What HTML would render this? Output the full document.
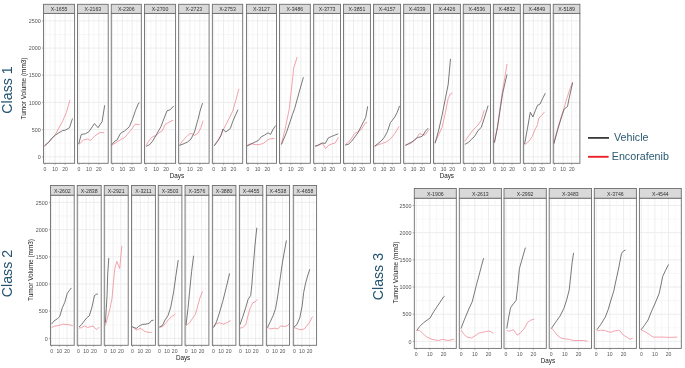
<!DOCTYPE html>
<html><head><meta charset="utf-8"><style>
html,body{margin:0;padding:0;background:#fff;}
body{width:685px;height:368px;overflow:hidden;position:relative;font-family:"Liberation Sans", sans-serif;}
svg text{font-family:"Liberation Sans", sans-serif;}
</style></head><body>
<svg width="685" height="368" viewBox="0 0 685 368" style="position:absolute;left:0;top:0"><g style="filter:blur(0.3px)"><rect x="43.55" y="13.40" width="31.05" height="149.90" fill="#fff"/><line x1="43.55" x2="74.60" y1="143.21" y2="143.21" stroke="#f3f3f3" stroke-width="0.6"/><line x1="43.55" x2="74.60" y1="116.03" y2="116.03" stroke="#f3f3f3" stroke-width="0.6"/><line x1="43.55" x2="74.60" y1="88.85" y2="88.85" stroke="#f3f3f3" stroke-width="0.6"/><line x1="43.55" x2="74.60" y1="61.67" y2="61.67" stroke="#f3f3f3" stroke-width="0.6"/><line x1="43.55" x2="74.60" y1="34.49" y2="34.49" stroke="#f3f3f3" stroke-width="0.6"/><line x1="50.00" x2="50.00" y1="13.40" y2="163.30" stroke="#f3f3f3" stroke-width="0.6"/><line x1="60.08" x2="60.08" y1="13.40" y2="163.30" stroke="#f3f3f3" stroke-width="0.6"/><line x1="70.16" x2="70.16" y1="13.40" y2="163.30" stroke="#f3f3f3" stroke-width="0.6"/><line x1="43.55" x2="74.60" y1="156.80" y2="156.80" stroke="#ebebeb" stroke-width="0.9"/><line x1="43.55" x2="74.60" y1="129.62" y2="129.62" stroke="#ebebeb" stroke-width="0.9"/><line x1="43.55" x2="74.60" y1="102.44" y2="102.44" stroke="#ebebeb" stroke-width="0.9"/><line x1="43.55" x2="74.60" y1="75.26" y2="75.26" stroke="#ebebeb" stroke-width="0.9"/><line x1="43.55" x2="74.60" y1="48.08" y2="48.08" stroke="#ebebeb" stroke-width="0.9"/><line x1="43.55" x2="74.60" y1="20.90" y2="20.90" stroke="#ebebeb" stroke-width="0.9"/><line x1="44.96" x2="44.96" y1="13.40" y2="163.30" stroke="#ebebeb" stroke-width="0.9"/><line x1="55.04" x2="55.04" y1="13.40" y2="163.30" stroke="#ebebeb" stroke-width="0.9"/><line x1="65.12" x2="65.12" y1="13.40" y2="163.30" stroke="#ebebeb" stroke-width="0.9"/><polyline points="44.4,146.0 50.1,140.9 55.2,134.8 62.4,121.6 66.4,112.4 69.9,100.2" fill="none" stroke="#f08c98" stroke-width="0.8" stroke-linejoin="round"/><polyline points="44.4,146.0 49.1,141.9 51.2,138.9 55.2,135.2 58.3,133.2 62.4,130.7 65.4,130.1 69.5,127.7 72.5,118.5" fill="none" stroke="#575757" stroke-width="0.8" stroke-linejoin="round"/><rect x="43.55" y="13.40" width="31.05" height="149.90" fill="none" stroke="#6e6e6e" stroke-width="0.9"/><rect x="43.55" y="4.30" width="31.05" height="9.10" fill="#d9d9d9" stroke="#6e6e6e" stroke-width="0.9"/><text x="59.08" y="11.35" font-size="5.2" fill="#333" text-anchor="middle">X-1655</text><line x1="44.96" x2="44.96" y1="163.30" y2="164.80" stroke="#777" stroke-width="0.6"/><text x="44.96" y="171.40" font-size="5.1" fill="#555" text-anchor="middle">0</text><line x1="55.04" x2="55.04" y1="163.30" y2="164.80" stroke="#777" stroke-width="0.6"/><text x="55.04" y="171.40" font-size="5.1" fill="#555" text-anchor="middle">10</text><line x1="65.12" x2="65.12" y1="163.30" y2="164.80" stroke="#777" stroke-width="0.6"/><text x="65.12" y="171.40" font-size="5.1" fill="#555" text-anchor="middle">20</text><rect x="77.55" y="13.40" width="30.65" height="149.90" fill="#fff"/><line x1="77.55" x2="108.20" y1="143.21" y2="143.21" stroke="#f3f3f3" stroke-width="0.6"/><line x1="77.55" x2="108.20" y1="116.03" y2="116.03" stroke="#f3f3f3" stroke-width="0.6"/><line x1="77.55" x2="108.20" y1="88.85" y2="88.85" stroke="#f3f3f3" stroke-width="0.6"/><line x1="77.55" x2="108.20" y1="61.67" y2="61.67" stroke="#f3f3f3" stroke-width="0.6"/><line x1="77.55" x2="108.20" y1="34.49" y2="34.49" stroke="#f3f3f3" stroke-width="0.6"/><line x1="83.92" x2="83.92" y1="13.40" y2="163.30" stroke="#f3f3f3" stroke-width="0.6"/><line x1="93.87" x2="93.87" y1="13.40" y2="163.30" stroke="#f3f3f3" stroke-width="0.6"/><line x1="103.82" x2="103.82" y1="13.40" y2="163.30" stroke="#f3f3f3" stroke-width="0.6"/><line x1="77.55" x2="108.20" y1="156.80" y2="156.80" stroke="#ebebeb" stroke-width="0.9"/><line x1="77.55" x2="108.20" y1="129.62" y2="129.62" stroke="#ebebeb" stroke-width="0.9"/><line x1="77.55" x2="108.20" y1="102.44" y2="102.44" stroke="#ebebeb" stroke-width="0.9"/><line x1="77.55" x2="108.20" y1="75.26" y2="75.26" stroke="#ebebeb" stroke-width="0.9"/><line x1="77.55" x2="108.20" y1="48.08" y2="48.08" stroke="#ebebeb" stroke-width="0.9"/><line x1="77.55" x2="108.20" y1="20.90" y2="20.90" stroke="#ebebeb" stroke-width="0.9"/><line x1="78.94" x2="78.94" y1="13.40" y2="163.30" stroke="#ebebeb" stroke-width="0.9"/><line x1="88.89" x2="88.89" y1="13.40" y2="163.30" stroke="#ebebeb" stroke-width="0.9"/><line x1="98.85" x2="98.85" y1="13.40" y2="163.30" stroke="#ebebeb" stroke-width="0.9"/><polyline points="78.7,144.6 83.8,139.9 87.8,138.9 90.5,140.5 95.0,135.8 100.0,132.4 104.1,132.8" fill="none" stroke="#f08c98" stroke-width="0.8" stroke-linejoin="round"/><polyline points="78.7,144.0 81.3,134.4 85.4,133.8 88.8,131.8 94.5,123.6 98.0,127.7 102.1,121.6 104.7,105.3" fill="none" stroke="#575757" stroke-width="0.8" stroke-linejoin="round"/><rect x="77.55" y="13.40" width="30.65" height="149.90" fill="none" stroke="#6e6e6e" stroke-width="0.9"/><rect x="77.55" y="4.30" width="30.65" height="9.10" fill="#d9d9d9" stroke="#6e6e6e" stroke-width="0.9"/><text x="92.88" y="11.35" font-size="5.2" fill="#333" text-anchor="middle">X-2163</text><line x1="78.94" x2="78.94" y1="163.30" y2="164.80" stroke="#777" stroke-width="0.6"/><text x="78.94" y="171.40" font-size="5.1" fill="#555" text-anchor="middle">0</text><line x1="88.89" x2="88.89" y1="163.30" y2="164.80" stroke="#777" stroke-width="0.6"/><text x="88.89" y="171.40" font-size="5.1" fill="#555" text-anchor="middle">10</text><line x1="98.85" x2="98.85" y1="163.30" y2="164.80" stroke="#777" stroke-width="0.6"/><text x="98.85" y="171.40" font-size="5.1" fill="#555" text-anchor="middle">20</text><rect x="111.25" y="13.40" width="30.05" height="149.90" fill="#fff"/><line x1="111.25" x2="141.30" y1="143.21" y2="143.21" stroke="#f3f3f3" stroke-width="0.6"/><line x1="111.25" x2="141.30" y1="116.03" y2="116.03" stroke="#f3f3f3" stroke-width="0.6"/><line x1="111.25" x2="141.30" y1="88.85" y2="88.85" stroke="#f3f3f3" stroke-width="0.6"/><line x1="111.25" x2="141.30" y1="61.67" y2="61.67" stroke="#f3f3f3" stroke-width="0.6"/><line x1="111.25" x2="141.30" y1="34.49" y2="34.49" stroke="#f3f3f3" stroke-width="0.6"/><line x1="117.49" x2="117.49" y1="13.40" y2="163.30" stroke="#f3f3f3" stroke-width="0.6"/><line x1="127.25" x2="127.25" y1="13.40" y2="163.30" stroke="#f3f3f3" stroke-width="0.6"/><line x1="137.01" x2="137.01" y1="13.40" y2="163.30" stroke="#f3f3f3" stroke-width="0.6"/><line x1="111.25" x2="141.30" y1="156.80" y2="156.80" stroke="#ebebeb" stroke-width="0.9"/><line x1="111.25" x2="141.30" y1="129.62" y2="129.62" stroke="#ebebeb" stroke-width="0.9"/><line x1="111.25" x2="141.30" y1="102.44" y2="102.44" stroke="#ebebeb" stroke-width="0.9"/><line x1="111.25" x2="141.30" y1="75.26" y2="75.26" stroke="#ebebeb" stroke-width="0.9"/><line x1="111.25" x2="141.30" y1="48.08" y2="48.08" stroke="#ebebeb" stroke-width="0.9"/><line x1="111.25" x2="141.30" y1="20.90" y2="20.90" stroke="#ebebeb" stroke-width="0.9"/><line x1="112.62" x2="112.62" y1="13.40" y2="163.30" stroke="#ebebeb" stroke-width="0.9"/><line x1="122.37" x2="122.37" y1="13.40" y2="163.30" stroke="#ebebeb" stroke-width="0.9"/><line x1="132.13" x2="132.13" y1="13.40" y2="163.30" stroke="#ebebeb" stroke-width="0.9"/><polyline points="111.8,145.0 117.2,141.9 121.2,139.3 124.3,137.9 128.3,133.2 131.4,129.7 135.1,124.2 139.6,124.6" fill="none" stroke="#f08c98" stroke-width="0.8" stroke-linejoin="round"/><polyline points="111.8,144.6 115.1,140.9 117.2,139.9 120.2,133.8 122.2,132.2 124.3,131.3 129.4,126.7 132.4,119.5 135.5,110.4 138.5,103.2 139.6,102.8" fill="none" stroke="#575757" stroke-width="0.8" stroke-linejoin="round"/><rect x="111.25" y="13.40" width="30.05" height="149.90" fill="none" stroke="#6e6e6e" stroke-width="0.9"/><rect x="111.25" y="4.30" width="30.05" height="9.10" fill="#d9d9d9" stroke="#6e6e6e" stroke-width="0.9"/><text x="126.28" y="11.35" font-size="5.2" fill="#333" text-anchor="middle">X-2306</text><line x1="112.62" x2="112.62" y1="163.30" y2="164.80" stroke="#777" stroke-width="0.6"/><text x="112.62" y="171.40" font-size="5.1" fill="#555" text-anchor="middle">0</text><line x1="122.37" x2="122.37" y1="163.30" y2="164.80" stroke="#777" stroke-width="0.6"/><text x="122.37" y="171.40" font-size="5.1" fill="#555" text-anchor="middle">10</text><line x1="132.13" x2="132.13" y1="163.30" y2="164.80" stroke="#777" stroke-width="0.6"/><text x="132.13" y="171.40" font-size="5.1" fill="#555" text-anchor="middle">20</text><rect x="144.45" y="13.40" width="31.15" height="149.90" fill="#fff"/><line x1="144.45" x2="175.60" y1="143.21" y2="143.21" stroke="#f3f3f3" stroke-width="0.6"/><line x1="144.45" x2="175.60" y1="116.03" y2="116.03" stroke="#f3f3f3" stroke-width="0.6"/><line x1="144.45" x2="175.60" y1="88.85" y2="88.85" stroke="#f3f3f3" stroke-width="0.6"/><line x1="144.45" x2="175.60" y1="61.67" y2="61.67" stroke="#f3f3f3" stroke-width="0.6"/><line x1="144.45" x2="175.60" y1="34.49" y2="34.49" stroke="#f3f3f3" stroke-width="0.6"/><line x1="150.92" x2="150.92" y1="13.40" y2="163.30" stroke="#f3f3f3" stroke-width="0.6"/><line x1="161.04" x2="161.04" y1="13.40" y2="163.30" stroke="#f3f3f3" stroke-width="0.6"/><line x1="171.15" x2="171.15" y1="13.40" y2="163.30" stroke="#f3f3f3" stroke-width="0.6"/><line x1="144.45" x2="175.60" y1="156.80" y2="156.80" stroke="#ebebeb" stroke-width="0.9"/><line x1="144.45" x2="175.60" y1="129.62" y2="129.62" stroke="#ebebeb" stroke-width="0.9"/><line x1="144.45" x2="175.60" y1="102.44" y2="102.44" stroke="#ebebeb" stroke-width="0.9"/><line x1="144.45" x2="175.60" y1="75.26" y2="75.26" stroke="#ebebeb" stroke-width="0.9"/><line x1="144.45" x2="175.60" y1="48.08" y2="48.08" stroke="#ebebeb" stroke-width="0.9"/><line x1="144.45" x2="175.60" y1="20.90" y2="20.90" stroke="#ebebeb" stroke-width="0.9"/><line x1="145.87" x2="145.87" y1="13.40" y2="163.30" stroke="#ebebeb" stroke-width="0.9"/><line x1="155.98" x2="155.98" y1="13.40" y2="163.30" stroke="#ebebeb" stroke-width="0.9"/><line x1="166.09" x2="166.09" y1="13.40" y2="163.30" stroke="#ebebeb" stroke-width="0.9"/><polyline points="146.1,145.4 149.7,139.9 152.8,136.4 155.8,135.8 158.9,132.8 162.4,130.7 165.0,124.6 169.1,122.2 173.2,120.1" fill="none" stroke="#f08c98" stroke-width="0.8" stroke-linejoin="round"/><polyline points="146.1,146.4 149.7,144.6 152.8,140.9 156.9,133.8 160.9,126.7 164.0,118.5 167.0,110.8 170.1,109.8 173.8,105.9" fill="none" stroke="#575757" stroke-width="0.8" stroke-linejoin="round"/><rect x="144.45" y="13.40" width="31.15" height="149.90" fill="none" stroke="#6e6e6e" stroke-width="0.9"/><rect x="144.45" y="4.30" width="31.15" height="9.10" fill="#d9d9d9" stroke="#6e6e6e" stroke-width="0.9"/><text x="160.02" y="11.35" font-size="5.2" fill="#333" text-anchor="middle">X-2700</text><line x1="145.87" x2="145.87" y1="163.30" y2="164.80" stroke="#777" stroke-width="0.6"/><text x="145.87" y="171.40" font-size="5.1" fill="#555" text-anchor="middle">0</text><line x1="155.98" x2="155.98" y1="163.30" y2="164.80" stroke="#777" stroke-width="0.6"/><text x="155.98" y="171.40" font-size="5.1" fill="#555" text-anchor="middle">10</text><line x1="166.09" x2="166.09" y1="163.30" y2="164.80" stroke="#777" stroke-width="0.6"/><text x="166.09" y="171.40" font-size="5.1" fill="#555" text-anchor="middle">20</text><rect x="178.65" y="13.40" width="30.45" height="149.90" fill="#fff"/><line x1="178.65" x2="209.10" y1="143.21" y2="143.21" stroke="#f3f3f3" stroke-width="0.6"/><line x1="178.65" x2="209.10" y1="116.03" y2="116.03" stroke="#f3f3f3" stroke-width="0.6"/><line x1="178.65" x2="209.10" y1="88.85" y2="88.85" stroke="#f3f3f3" stroke-width="0.6"/><line x1="178.65" x2="209.10" y1="61.67" y2="61.67" stroke="#f3f3f3" stroke-width="0.6"/><line x1="178.65" x2="209.10" y1="34.49" y2="34.49" stroke="#f3f3f3" stroke-width="0.6"/><line x1="184.98" x2="184.98" y1="13.40" y2="163.30" stroke="#f3f3f3" stroke-width="0.6"/><line x1="194.86" x2="194.86" y1="13.40" y2="163.30" stroke="#f3f3f3" stroke-width="0.6"/><line x1="204.75" x2="204.75" y1="13.40" y2="163.30" stroke="#f3f3f3" stroke-width="0.6"/><line x1="178.65" x2="209.10" y1="156.80" y2="156.80" stroke="#ebebeb" stroke-width="0.9"/><line x1="178.65" x2="209.10" y1="129.62" y2="129.62" stroke="#ebebeb" stroke-width="0.9"/><line x1="178.65" x2="209.10" y1="102.44" y2="102.44" stroke="#ebebeb" stroke-width="0.9"/><line x1="178.65" x2="209.10" y1="75.26" y2="75.26" stroke="#ebebeb" stroke-width="0.9"/><line x1="178.65" x2="209.10" y1="48.08" y2="48.08" stroke="#ebebeb" stroke-width="0.9"/><line x1="178.65" x2="209.10" y1="20.90" y2="20.90" stroke="#ebebeb" stroke-width="0.9"/><line x1="180.03" x2="180.03" y1="13.40" y2="163.30" stroke="#ebebeb" stroke-width="0.9"/><line x1="189.92" x2="189.92" y1="13.40" y2="163.30" stroke="#ebebeb" stroke-width="0.9"/><line x1="199.81" x2="199.81" y1="13.40" y2="163.30" stroke="#ebebeb" stroke-width="0.9"/><polyline points="179.5,145.2 182.9,140.6 186.4,136.7 189.9,133.7 192.2,133.7 194.5,135.5 198.0,133.2 201.0,127.4 203.1,120.5" fill="none" stroke="#f08c98" stroke-width="0.8" stroke-linejoin="round"/><polyline points="179.5,145.4 182.9,144.1 187.6,142.0 191.0,139.0 194.5,132.0 198.0,119.3 200.3,110.1 202.6,103.1" fill="none" stroke="#575757" stroke-width="0.8" stroke-linejoin="round"/><rect x="178.65" y="13.40" width="30.45" height="149.90" fill="none" stroke="#6e6e6e" stroke-width="0.9"/><rect x="178.65" y="4.30" width="30.45" height="9.10" fill="#d9d9d9" stroke="#6e6e6e" stroke-width="0.9"/><text x="193.88" y="11.35" font-size="5.2" fill="#333" text-anchor="middle">X-2723</text><line x1="180.03" x2="180.03" y1="163.30" y2="164.80" stroke="#777" stroke-width="0.6"/><text x="180.03" y="171.40" font-size="5.1" fill="#555" text-anchor="middle">0</text><line x1="189.92" x2="189.92" y1="163.30" y2="164.80" stroke="#777" stroke-width="0.6"/><text x="189.92" y="171.40" font-size="5.1" fill="#555" text-anchor="middle">10</text><line x1="199.81" x2="199.81" y1="163.30" y2="164.80" stroke="#777" stroke-width="0.6"/><text x="199.81" y="171.40" font-size="5.1" fill="#555" text-anchor="middle">20</text><rect x="212.35" y="13.40" width="30.35" height="149.90" fill="#fff"/><line x1="212.35" x2="242.70" y1="143.21" y2="143.21" stroke="#f3f3f3" stroke-width="0.6"/><line x1="212.35" x2="242.70" y1="116.03" y2="116.03" stroke="#f3f3f3" stroke-width="0.6"/><line x1="212.35" x2="242.70" y1="88.85" y2="88.85" stroke="#f3f3f3" stroke-width="0.6"/><line x1="212.35" x2="242.70" y1="61.67" y2="61.67" stroke="#f3f3f3" stroke-width="0.6"/><line x1="212.35" x2="242.70" y1="34.49" y2="34.49" stroke="#f3f3f3" stroke-width="0.6"/><line x1="218.66" x2="218.66" y1="13.40" y2="163.30" stroke="#f3f3f3" stroke-width="0.6"/><line x1="228.51" x2="228.51" y1="13.40" y2="163.30" stroke="#f3f3f3" stroke-width="0.6"/><line x1="238.36" x2="238.36" y1="13.40" y2="163.30" stroke="#f3f3f3" stroke-width="0.6"/><line x1="212.35" x2="242.70" y1="156.80" y2="156.80" stroke="#ebebeb" stroke-width="0.9"/><line x1="212.35" x2="242.70" y1="129.62" y2="129.62" stroke="#ebebeb" stroke-width="0.9"/><line x1="212.35" x2="242.70" y1="102.44" y2="102.44" stroke="#ebebeb" stroke-width="0.9"/><line x1="212.35" x2="242.70" y1="75.26" y2="75.26" stroke="#ebebeb" stroke-width="0.9"/><line x1="212.35" x2="242.70" y1="48.08" y2="48.08" stroke="#ebebeb" stroke-width="0.9"/><line x1="212.35" x2="242.70" y1="20.90" y2="20.90" stroke="#ebebeb" stroke-width="0.9"/><line x1="213.73" x2="213.73" y1="13.40" y2="163.30" stroke="#ebebeb" stroke-width="0.9"/><line x1="223.58" x2="223.58" y1="13.40" y2="163.30" stroke="#ebebeb" stroke-width="0.9"/><line x1="233.44" x2="233.44" y1="13.40" y2="163.30" stroke="#ebebeb" stroke-width="0.9"/><polyline points="214.2,145.4 218.8,139.0 222.2,132.0 225.7,125.1 229.2,118.2 232.7,111.2 235.7,100.8 238.9,88.8" fill="none" stroke="#f08c98" stroke-width="0.8" stroke-linejoin="round"/><polyline points="214.2,145.9 217.6,141.3 221.1,135.5 222.9,129.0 225.7,132.0 230.3,128.6 232.7,121.6 235.7,114.7 238.0,109.6" fill="none" stroke="#575757" stroke-width="0.8" stroke-linejoin="round"/><rect x="212.35" y="13.40" width="30.35" height="149.90" fill="none" stroke="#6e6e6e" stroke-width="0.9"/><rect x="212.35" y="4.30" width="30.35" height="9.10" fill="#d9d9d9" stroke="#6e6e6e" stroke-width="0.9"/><text x="227.52" y="11.35" font-size="5.2" fill="#333" text-anchor="middle">X-2753</text><line x1="213.73" x2="213.73" y1="163.30" y2="164.80" stroke="#777" stroke-width="0.6"/><text x="213.73" y="171.40" font-size="5.1" fill="#555" text-anchor="middle">0</text><line x1="223.58" x2="223.58" y1="163.30" y2="164.80" stroke="#777" stroke-width="0.6"/><text x="223.58" y="171.40" font-size="5.1" fill="#555" text-anchor="middle">10</text><line x1="233.44" x2="233.44" y1="163.30" y2="164.80" stroke="#777" stroke-width="0.6"/><text x="233.44" y="171.40" font-size="5.1" fill="#555" text-anchor="middle">20</text><rect x="246.45" y="13.40" width="30.05" height="149.90" fill="#fff"/><line x1="246.45" x2="276.50" y1="143.21" y2="143.21" stroke="#f3f3f3" stroke-width="0.6"/><line x1="246.45" x2="276.50" y1="116.03" y2="116.03" stroke="#f3f3f3" stroke-width="0.6"/><line x1="246.45" x2="276.50" y1="88.85" y2="88.85" stroke="#f3f3f3" stroke-width="0.6"/><line x1="246.45" x2="276.50" y1="61.67" y2="61.67" stroke="#f3f3f3" stroke-width="0.6"/><line x1="246.45" x2="276.50" y1="34.49" y2="34.49" stroke="#f3f3f3" stroke-width="0.6"/><line x1="252.69" x2="252.69" y1="13.40" y2="163.30" stroke="#f3f3f3" stroke-width="0.6"/><line x1="262.45" x2="262.45" y1="13.40" y2="163.30" stroke="#f3f3f3" stroke-width="0.6"/><line x1="272.21" x2="272.21" y1="13.40" y2="163.30" stroke="#f3f3f3" stroke-width="0.6"/><line x1="246.45" x2="276.50" y1="156.80" y2="156.80" stroke="#ebebeb" stroke-width="0.9"/><line x1="246.45" x2="276.50" y1="129.62" y2="129.62" stroke="#ebebeb" stroke-width="0.9"/><line x1="246.45" x2="276.50" y1="102.44" y2="102.44" stroke="#ebebeb" stroke-width="0.9"/><line x1="246.45" x2="276.50" y1="75.26" y2="75.26" stroke="#ebebeb" stroke-width="0.9"/><line x1="246.45" x2="276.50" y1="48.08" y2="48.08" stroke="#ebebeb" stroke-width="0.9"/><line x1="246.45" x2="276.50" y1="20.90" y2="20.90" stroke="#ebebeb" stroke-width="0.9"/><line x1="247.82" x2="247.82" y1="13.40" y2="163.30" stroke="#ebebeb" stroke-width="0.9"/><line x1="257.57" x2="257.57" y1="13.40" y2="163.30" stroke="#ebebeb" stroke-width="0.9"/><line x1="267.33" x2="267.33" y1="13.40" y2="163.30" stroke="#ebebeb" stroke-width="0.9"/><polyline points="247.1,145.4 251.1,143.6 255.2,144.6 259.3,144.6 263.4,143.4 266.4,140.9 269.5,138.9 274.6,138.5" fill="none" stroke="#f08c98" stroke-width="0.8" stroke-linejoin="round"/><polyline points="247.1,146.0 251.1,144.0 255.2,141.9 258.3,140.5 261.3,136.8 264.4,135.2 268.0,132.8 270.5,134.4 272.9,129.7 275.6,125.6" fill="none" stroke="#575757" stroke-width="0.8" stroke-linejoin="round"/><rect x="246.45" y="13.40" width="30.05" height="149.90" fill="none" stroke="#6e6e6e" stroke-width="0.9"/><rect x="246.45" y="4.30" width="30.05" height="9.10" fill="#d9d9d9" stroke="#6e6e6e" stroke-width="0.9"/><text x="261.48" y="11.35" font-size="5.2" fill="#333" text-anchor="middle">X-3127</text><line x1="247.82" x2="247.82" y1="163.30" y2="164.80" stroke="#777" stroke-width="0.6"/><text x="247.82" y="171.40" font-size="5.1" fill="#555" text-anchor="middle">0</text><line x1="257.57" x2="257.57" y1="163.30" y2="164.80" stroke="#777" stroke-width="0.6"/><text x="257.57" y="171.40" font-size="5.1" fill="#555" text-anchor="middle">10</text><line x1="267.33" x2="267.33" y1="163.30" y2="164.80" stroke="#777" stroke-width="0.6"/><text x="267.33" y="171.40" font-size="5.1" fill="#555" text-anchor="middle">20</text><rect x="279.45" y="13.40" width="30.85" height="149.90" fill="#fff"/><line x1="279.45" x2="310.30" y1="143.21" y2="143.21" stroke="#f3f3f3" stroke-width="0.6"/><line x1="279.45" x2="310.30" y1="116.03" y2="116.03" stroke="#f3f3f3" stroke-width="0.6"/><line x1="279.45" x2="310.30" y1="88.85" y2="88.85" stroke="#f3f3f3" stroke-width="0.6"/><line x1="279.45" x2="310.30" y1="61.67" y2="61.67" stroke="#f3f3f3" stroke-width="0.6"/><line x1="279.45" x2="310.30" y1="34.49" y2="34.49" stroke="#f3f3f3" stroke-width="0.6"/><line x1="285.86" x2="285.86" y1="13.40" y2="163.30" stroke="#f3f3f3" stroke-width="0.6"/><line x1="295.88" x2="295.88" y1="13.40" y2="163.30" stroke="#f3f3f3" stroke-width="0.6"/><line x1="305.89" x2="305.89" y1="13.40" y2="163.30" stroke="#f3f3f3" stroke-width="0.6"/><line x1="279.45" x2="310.30" y1="156.80" y2="156.80" stroke="#ebebeb" stroke-width="0.9"/><line x1="279.45" x2="310.30" y1="129.62" y2="129.62" stroke="#ebebeb" stroke-width="0.9"/><line x1="279.45" x2="310.30" y1="102.44" y2="102.44" stroke="#ebebeb" stroke-width="0.9"/><line x1="279.45" x2="310.30" y1="75.26" y2="75.26" stroke="#ebebeb" stroke-width="0.9"/><line x1="279.45" x2="310.30" y1="48.08" y2="48.08" stroke="#ebebeb" stroke-width="0.9"/><line x1="279.45" x2="310.30" y1="20.90" y2="20.90" stroke="#ebebeb" stroke-width="0.9"/><line x1="280.85" x2="280.85" y1="13.40" y2="163.30" stroke="#ebebeb" stroke-width="0.9"/><line x1="290.87" x2="290.87" y1="13.40" y2="163.30" stroke="#ebebeb" stroke-width="0.9"/><line x1="300.88" x2="300.88" y1="13.40" y2="163.30" stroke="#ebebeb" stroke-width="0.9"/><polyline points="281.4,144.0 285.0,129.7 289.3,108.7 291.0,92.8 292.8,76.9 293.7,68.0 297.2,57.0" fill="none" stroke="#f08c98" stroke-width="0.8" stroke-linejoin="round"/><polyline points="281.4,144.6 286.4,132.7 292.4,114.7 294.6,108.7 299.0,92.8 303.4,77.2" fill="none" stroke="#575757" stroke-width="0.8" stroke-linejoin="round"/><rect x="279.45" y="13.40" width="30.85" height="149.90" fill="none" stroke="#6e6e6e" stroke-width="0.9"/><rect x="279.45" y="4.30" width="30.85" height="9.10" fill="#d9d9d9" stroke="#6e6e6e" stroke-width="0.9"/><text x="294.88" y="11.35" font-size="5.2" fill="#333" text-anchor="middle">X-3486</text><line x1="280.85" x2="280.85" y1="163.30" y2="164.80" stroke="#777" stroke-width="0.6"/><text x="280.85" y="171.40" font-size="5.1" fill="#555" text-anchor="middle">0</text><line x1="290.87" x2="290.87" y1="163.30" y2="164.80" stroke="#777" stroke-width="0.6"/><text x="290.87" y="171.40" font-size="5.1" fill="#555" text-anchor="middle">10</text><line x1="300.88" x2="300.88" y1="163.30" y2="164.80" stroke="#777" stroke-width="0.6"/><text x="300.88" y="171.40" font-size="5.1" fill="#555" text-anchor="middle">20</text><line x1="42.05" x2="43.55" y1="156.80" y2="156.80" stroke="#777" stroke-width="0.6"/><text x="40.70" y="158.95" font-size="5.35" fill="#555" text-anchor="end">0</text><line x1="42.05" x2="43.55" y1="129.62" y2="129.62" stroke="#777" stroke-width="0.6"/><text x="40.70" y="131.77" font-size="5.35" fill="#555" text-anchor="end">500</text><line x1="42.05" x2="43.55" y1="102.44" y2="102.44" stroke="#777" stroke-width="0.6"/><text x="40.70" y="104.59" font-size="5.35" fill="#555" text-anchor="end">1000</text><line x1="42.05" x2="43.55" y1="75.26" y2="75.26" stroke="#777" stroke-width="0.6"/><text x="40.70" y="77.41" font-size="5.35" fill="#555" text-anchor="end">1500</text><line x1="42.05" x2="43.55" y1="48.08" y2="48.08" stroke="#777" stroke-width="0.6"/><text x="40.70" y="50.23" font-size="5.35" fill="#555" text-anchor="end">2000</text><line x1="42.05" x2="43.55" y1="20.90" y2="20.90" stroke="#777" stroke-width="0.6"/><text x="40.70" y="23.05" font-size="5.35" fill="#555" text-anchor="end">2500</text><rect x="313.65" y="13.40" width="26.85" height="149.90" fill="#fff"/><line x1="313.65" x2="340.50" y1="143.21" y2="143.21" stroke="#f3f3f3" stroke-width="0.6"/><line x1="313.65" x2="340.50" y1="116.03" y2="116.03" stroke="#f3f3f3" stroke-width="0.6"/><line x1="313.65" x2="340.50" y1="88.85" y2="88.85" stroke="#f3f3f3" stroke-width="0.6"/><line x1="313.65" x2="340.50" y1="61.67" y2="61.67" stroke="#f3f3f3" stroke-width="0.6"/><line x1="313.65" x2="340.50" y1="34.49" y2="34.49" stroke="#f3f3f3" stroke-width="0.6"/><line x1="319.23" x2="319.23" y1="13.40" y2="163.30" stroke="#f3f3f3" stroke-width="0.6"/><line x1="327.95" x2="327.95" y1="13.40" y2="163.30" stroke="#f3f3f3" stroke-width="0.6"/><line x1="336.66" x2="336.66" y1="13.40" y2="163.30" stroke="#f3f3f3" stroke-width="0.6"/><line x1="313.65" x2="340.50" y1="156.80" y2="156.80" stroke="#ebebeb" stroke-width="0.9"/><line x1="313.65" x2="340.50" y1="129.62" y2="129.62" stroke="#ebebeb" stroke-width="0.9"/><line x1="313.65" x2="340.50" y1="102.44" y2="102.44" stroke="#ebebeb" stroke-width="0.9"/><line x1="313.65" x2="340.50" y1="75.26" y2="75.26" stroke="#ebebeb" stroke-width="0.9"/><line x1="313.65" x2="340.50" y1="48.08" y2="48.08" stroke="#ebebeb" stroke-width="0.9"/><line x1="313.65" x2="340.50" y1="20.90" y2="20.90" stroke="#ebebeb" stroke-width="0.9"/><line x1="314.87" x2="314.87" y1="13.40" y2="163.30" stroke="#ebebeb" stroke-width="0.9"/><line x1="323.59" x2="323.59" y1="13.40" y2="163.30" stroke="#ebebeb" stroke-width="0.9"/><line x1="332.31" x2="332.31" y1="13.40" y2="163.30" stroke="#ebebeb" stroke-width="0.9"/><polyline points="315.1,146.5 318.1,145.5 322.2,143.4 324.3,146.1 325.7,148.5 328.3,145.5 331.4,144.1 335.1,143.0 338.5,137.3" fill="none" stroke="#f08c98" stroke-width="0.8" stroke-linejoin="round"/><polyline points="315.1,146.1 318.1,145.1 322.2,143.0 325.3,143.4 328.3,137.9 331.4,136.5 334.5,135.3 338.1,133.8" fill="none" stroke="#575757" stroke-width="0.8" stroke-linejoin="round"/><rect x="313.65" y="13.40" width="26.85" height="149.90" fill="none" stroke="#6e6e6e" stroke-width="0.9"/><rect x="313.65" y="4.30" width="26.85" height="9.10" fill="#d9d9d9" stroke="#6e6e6e" stroke-width="0.9"/><text x="327.08" y="11.35" font-size="5.2" fill="#333" text-anchor="middle">X-3773</text><line x1="314.87" x2="314.87" y1="163.30" y2="164.80" stroke="#777" stroke-width="0.6"/><text x="314.87" y="171.40" font-size="5.1" fill="#555" text-anchor="middle">0</text><line x1="323.59" x2="323.59" y1="163.30" y2="164.80" stroke="#777" stroke-width="0.6"/><text x="323.59" y="171.40" font-size="5.1" fill="#555" text-anchor="middle">10</text><line x1="332.31" x2="332.31" y1="163.30" y2="164.80" stroke="#777" stroke-width="0.6"/><text x="332.31" y="171.40" font-size="5.1" fill="#555" text-anchor="middle">20</text><rect x="343.55" y="13.40" width="26.85" height="149.90" fill="#fff"/><line x1="343.55" x2="370.40" y1="143.21" y2="143.21" stroke="#f3f3f3" stroke-width="0.6"/><line x1="343.55" x2="370.40" y1="116.03" y2="116.03" stroke="#f3f3f3" stroke-width="0.6"/><line x1="343.55" x2="370.40" y1="88.85" y2="88.85" stroke="#f3f3f3" stroke-width="0.6"/><line x1="343.55" x2="370.40" y1="61.67" y2="61.67" stroke="#f3f3f3" stroke-width="0.6"/><line x1="343.55" x2="370.40" y1="34.49" y2="34.49" stroke="#f3f3f3" stroke-width="0.6"/><line x1="349.13" x2="349.13" y1="13.40" y2="163.30" stroke="#f3f3f3" stroke-width="0.6"/><line x1="357.85" x2="357.85" y1="13.40" y2="163.30" stroke="#f3f3f3" stroke-width="0.6"/><line x1="366.56" x2="366.56" y1="13.40" y2="163.30" stroke="#f3f3f3" stroke-width="0.6"/><line x1="343.55" x2="370.40" y1="156.80" y2="156.80" stroke="#ebebeb" stroke-width="0.9"/><line x1="343.55" x2="370.40" y1="129.62" y2="129.62" stroke="#ebebeb" stroke-width="0.9"/><line x1="343.55" x2="370.40" y1="102.44" y2="102.44" stroke="#ebebeb" stroke-width="0.9"/><line x1="343.55" x2="370.40" y1="75.26" y2="75.26" stroke="#ebebeb" stroke-width="0.9"/><line x1="343.55" x2="370.40" y1="48.08" y2="48.08" stroke="#ebebeb" stroke-width="0.9"/><line x1="343.55" x2="370.40" y1="20.90" y2="20.90" stroke="#ebebeb" stroke-width="0.9"/><line x1="344.77" x2="344.77" y1="13.40" y2="163.30" stroke="#ebebeb" stroke-width="0.9"/><line x1="353.49" x2="353.49" y1="13.40" y2="163.30" stroke="#ebebeb" stroke-width="0.9"/><line x1="362.21" x2="362.21" y1="13.40" y2="163.30" stroke="#ebebeb" stroke-width="0.9"/><polyline points="345.3,144.7 348.7,142.0 351.8,137.9 354.9,133.2 357.9,131.8 361.0,129.8 363.6,125.7 365.7,122.6 367.1,122.6" fill="none" stroke="#f08c98" stroke-width="0.8" stroke-linejoin="round"/><polyline points="345.3,145.1 348.7,144.1 351.8,141.0 354.9,136.9 357.9,132.8 361.0,126.7 363.6,121.6 365.7,117.5 367.7,106.3" fill="none" stroke="#575757" stroke-width="0.8" stroke-linejoin="round"/><rect x="343.55" y="13.40" width="26.85" height="149.90" fill="none" stroke="#6e6e6e" stroke-width="0.9"/><rect x="343.55" y="4.30" width="26.85" height="9.10" fill="#d9d9d9" stroke="#6e6e6e" stroke-width="0.9"/><text x="356.98" y="11.35" font-size="5.2" fill="#333" text-anchor="middle">X-3851</text><line x1="344.77" x2="344.77" y1="163.30" y2="164.80" stroke="#777" stroke-width="0.6"/><text x="344.77" y="171.40" font-size="5.1" fill="#555" text-anchor="middle">0</text><line x1="353.49" x2="353.49" y1="163.30" y2="164.80" stroke="#777" stroke-width="0.6"/><text x="353.49" y="171.40" font-size="5.1" fill="#555" text-anchor="middle">10</text><line x1="362.21" x2="362.21" y1="163.30" y2="164.80" stroke="#777" stroke-width="0.6"/><text x="362.21" y="171.40" font-size="5.1" fill="#555" text-anchor="middle">20</text><rect x="373.55" y="13.40" width="27.05" height="149.90" fill="#fff"/><line x1="373.55" x2="400.60" y1="143.21" y2="143.21" stroke="#f3f3f3" stroke-width="0.6"/><line x1="373.55" x2="400.60" y1="116.03" y2="116.03" stroke="#f3f3f3" stroke-width="0.6"/><line x1="373.55" x2="400.60" y1="88.85" y2="88.85" stroke="#f3f3f3" stroke-width="0.6"/><line x1="373.55" x2="400.60" y1="61.67" y2="61.67" stroke="#f3f3f3" stroke-width="0.6"/><line x1="373.55" x2="400.60" y1="34.49" y2="34.49" stroke="#f3f3f3" stroke-width="0.6"/><line x1="379.17" x2="379.17" y1="13.40" y2="163.30" stroke="#f3f3f3" stroke-width="0.6"/><line x1="387.95" x2="387.95" y1="13.40" y2="163.30" stroke="#f3f3f3" stroke-width="0.6"/><line x1="396.74" x2="396.74" y1="13.40" y2="163.30" stroke="#f3f3f3" stroke-width="0.6"/><line x1="373.55" x2="400.60" y1="156.80" y2="156.80" stroke="#ebebeb" stroke-width="0.9"/><line x1="373.55" x2="400.60" y1="129.62" y2="129.62" stroke="#ebebeb" stroke-width="0.9"/><line x1="373.55" x2="400.60" y1="102.44" y2="102.44" stroke="#ebebeb" stroke-width="0.9"/><line x1="373.55" x2="400.60" y1="75.26" y2="75.26" stroke="#ebebeb" stroke-width="0.9"/><line x1="373.55" x2="400.60" y1="48.08" y2="48.08" stroke="#ebebeb" stroke-width="0.9"/><line x1="373.55" x2="400.60" y1="20.90" y2="20.90" stroke="#ebebeb" stroke-width="0.9"/><line x1="374.78" x2="374.78" y1="13.40" y2="163.30" stroke="#ebebeb" stroke-width="0.9"/><line x1="383.56" x2="383.56" y1="13.40" y2="163.30" stroke="#ebebeb" stroke-width="0.9"/><line x1="392.34" x2="392.34" y1="13.40" y2="163.30" stroke="#ebebeb" stroke-width="0.9"/><polyline points="374.7,146.7 378.1,144.7 382.2,143.5 386.3,142.0 390.4,139.0 394.5,133.9 399.2,126.3" fill="none" stroke="#f08c98" stroke-width="0.8" stroke-linejoin="round"/><polyline points="374.7,146.1 378.1,143.5 381.2,141.0 384.3,137.3 387.3,131.8 390.4,122.7 392.4,120.2 395.1,116.5 397.1,112.5 399.6,105.9" fill="none" stroke="#575757" stroke-width="0.8" stroke-linejoin="round"/><rect x="373.55" y="13.40" width="27.05" height="149.90" fill="none" stroke="#6e6e6e" stroke-width="0.9"/><rect x="373.55" y="4.30" width="27.05" height="9.10" fill="#d9d9d9" stroke="#6e6e6e" stroke-width="0.9"/><text x="387.08" y="11.35" font-size="5.2" fill="#333" text-anchor="middle">X-4157</text><line x1="374.78" x2="374.78" y1="163.30" y2="164.80" stroke="#777" stroke-width="0.6"/><text x="374.78" y="171.40" font-size="5.1" fill="#555" text-anchor="middle">0</text><line x1="383.56" x2="383.56" y1="163.30" y2="164.80" stroke="#777" stroke-width="0.6"/><text x="383.56" y="171.40" font-size="5.1" fill="#555" text-anchor="middle">10</text><line x1="392.34" x2="392.34" y1="163.30" y2="164.80" stroke="#777" stroke-width="0.6"/><text x="392.34" y="171.40" font-size="5.1" fill="#555" text-anchor="middle">20</text><rect x="403.65" y="13.40" width="26.85" height="149.90" fill="#fff"/><line x1="403.65" x2="430.50" y1="143.21" y2="143.21" stroke="#f3f3f3" stroke-width="0.6"/><line x1="403.65" x2="430.50" y1="116.03" y2="116.03" stroke="#f3f3f3" stroke-width="0.6"/><line x1="403.65" x2="430.50" y1="88.85" y2="88.85" stroke="#f3f3f3" stroke-width="0.6"/><line x1="403.65" x2="430.50" y1="61.67" y2="61.67" stroke="#f3f3f3" stroke-width="0.6"/><line x1="403.65" x2="430.50" y1="34.49" y2="34.49" stroke="#f3f3f3" stroke-width="0.6"/><line x1="409.23" x2="409.23" y1="13.40" y2="163.30" stroke="#f3f3f3" stroke-width="0.6"/><line x1="417.95" x2="417.95" y1="13.40" y2="163.30" stroke="#f3f3f3" stroke-width="0.6"/><line x1="426.66" x2="426.66" y1="13.40" y2="163.30" stroke="#f3f3f3" stroke-width="0.6"/><line x1="403.65" x2="430.50" y1="156.80" y2="156.80" stroke="#ebebeb" stroke-width="0.9"/><line x1="403.65" x2="430.50" y1="129.62" y2="129.62" stroke="#ebebeb" stroke-width="0.9"/><line x1="403.65" x2="430.50" y1="102.44" y2="102.44" stroke="#ebebeb" stroke-width="0.9"/><line x1="403.65" x2="430.50" y1="75.26" y2="75.26" stroke="#ebebeb" stroke-width="0.9"/><line x1="403.65" x2="430.50" y1="48.08" y2="48.08" stroke="#ebebeb" stroke-width="0.9"/><line x1="403.65" x2="430.50" y1="20.90" y2="20.90" stroke="#ebebeb" stroke-width="0.9"/><line x1="404.87" x2="404.87" y1="13.40" y2="163.30" stroke="#ebebeb" stroke-width="0.9"/><line x1="413.59" x2="413.59" y1="13.40" y2="163.30" stroke="#ebebeb" stroke-width="0.9"/><line x1="422.31" x2="422.31" y1="13.40" y2="163.30" stroke="#ebebeb" stroke-width="0.9"/><polyline points="405.3,145.1 408.8,144.1 411.8,142.7 414.9,140.0 417.5,136.5 419.6,133.5 422.0,134.5 424.5,135.3 426.5,132.9 429.2,129.2" fill="none" stroke="#f08c98" stroke-width="0.8" stroke-linejoin="round"/><polyline points="405.3,145.5 408.8,143.5 411.8,142.0 414.9,139.6 417.9,137.3 421.0,136.9 423.0,135.3 425.7,130.8 428.1,128.2" fill="none" stroke="#575757" stroke-width="0.8" stroke-linejoin="round"/><rect x="403.65" y="13.40" width="26.85" height="149.90" fill="none" stroke="#6e6e6e" stroke-width="0.9"/><rect x="403.65" y="4.30" width="26.85" height="9.10" fill="#d9d9d9" stroke="#6e6e6e" stroke-width="0.9"/><text x="417.08" y="11.35" font-size="5.2" fill="#333" text-anchor="middle">X-4339</text><line x1="404.87" x2="404.87" y1="163.30" y2="164.80" stroke="#777" stroke-width="0.6"/><text x="404.87" y="171.40" font-size="5.1" fill="#555" text-anchor="middle">0</text><line x1="413.59" x2="413.59" y1="163.30" y2="164.80" stroke="#777" stroke-width="0.6"/><text x="413.59" y="171.40" font-size="5.1" fill="#555" text-anchor="middle">10</text><line x1="422.31" x2="422.31" y1="163.30" y2="164.80" stroke="#777" stroke-width="0.6"/><text x="422.31" y="171.40" font-size="5.1" fill="#555" text-anchor="middle">20</text><rect x="433.55" y="13.40" width="26.85" height="149.90" fill="#fff"/><line x1="433.55" x2="460.40" y1="143.21" y2="143.21" stroke="#f3f3f3" stroke-width="0.6"/><line x1="433.55" x2="460.40" y1="116.03" y2="116.03" stroke="#f3f3f3" stroke-width="0.6"/><line x1="433.55" x2="460.40" y1="88.85" y2="88.85" stroke="#f3f3f3" stroke-width="0.6"/><line x1="433.55" x2="460.40" y1="61.67" y2="61.67" stroke="#f3f3f3" stroke-width="0.6"/><line x1="433.55" x2="460.40" y1="34.49" y2="34.49" stroke="#f3f3f3" stroke-width="0.6"/><line x1="439.13" x2="439.13" y1="13.40" y2="163.30" stroke="#f3f3f3" stroke-width="0.6"/><line x1="447.85" x2="447.85" y1="13.40" y2="163.30" stroke="#f3f3f3" stroke-width="0.6"/><line x1="456.56" x2="456.56" y1="13.40" y2="163.30" stroke="#f3f3f3" stroke-width="0.6"/><line x1="433.55" x2="460.40" y1="156.80" y2="156.80" stroke="#ebebeb" stroke-width="0.9"/><line x1="433.55" x2="460.40" y1="129.62" y2="129.62" stroke="#ebebeb" stroke-width="0.9"/><line x1="433.55" x2="460.40" y1="102.44" y2="102.44" stroke="#ebebeb" stroke-width="0.9"/><line x1="433.55" x2="460.40" y1="75.26" y2="75.26" stroke="#ebebeb" stroke-width="0.9"/><line x1="433.55" x2="460.40" y1="48.08" y2="48.08" stroke="#ebebeb" stroke-width="0.9"/><line x1="433.55" x2="460.40" y1="20.90" y2="20.90" stroke="#ebebeb" stroke-width="0.9"/><line x1="434.77" x2="434.77" y1="13.40" y2="163.30" stroke="#ebebeb" stroke-width="0.9"/><line x1="443.49" x2="443.49" y1="13.40" y2="163.30" stroke="#ebebeb" stroke-width="0.9"/><line x1="452.21" x2="452.21" y1="13.40" y2="163.30" stroke="#ebebeb" stroke-width="0.9"/><polyline points="435.1,142.4 438.8,134.4 442.0,127.5 445.1,114.0 448.2,98.4 450.3,94.0 452.3,93.1" fill="none" stroke="#f08c98" stroke-width="0.8" stroke-linejoin="round"/><polyline points="435.1,143.3 438.8,129.7 442.0,115.6 445.1,100.0 448.2,84.4 450.5,58.8" fill="none" stroke="#575757" stroke-width="0.8" stroke-linejoin="round"/><rect x="433.55" y="13.40" width="26.85" height="149.90" fill="none" stroke="#6e6e6e" stroke-width="0.9"/><rect x="433.55" y="4.30" width="26.85" height="9.10" fill="#d9d9d9" stroke="#6e6e6e" stroke-width="0.9"/><text x="446.98" y="11.35" font-size="5.2" fill="#333" text-anchor="middle">X-4426</text><line x1="434.77" x2="434.77" y1="163.30" y2="164.80" stroke="#777" stroke-width="0.6"/><text x="434.77" y="171.40" font-size="5.1" fill="#555" text-anchor="middle">0</text><line x1="443.49" x2="443.49" y1="163.30" y2="164.80" stroke="#777" stroke-width="0.6"/><text x="443.49" y="171.40" font-size="5.1" fill="#555" text-anchor="middle">10</text><line x1="452.21" x2="452.21" y1="163.30" y2="164.80" stroke="#777" stroke-width="0.6"/><text x="452.21" y="171.40" font-size="5.1" fill="#555" text-anchor="middle">20</text><rect x="463.25" y="13.40" width="27.25" height="149.90" fill="#fff"/><line x1="463.25" x2="490.50" y1="143.21" y2="143.21" stroke="#f3f3f3" stroke-width="0.6"/><line x1="463.25" x2="490.50" y1="116.03" y2="116.03" stroke="#f3f3f3" stroke-width="0.6"/><line x1="463.25" x2="490.50" y1="88.85" y2="88.85" stroke="#f3f3f3" stroke-width="0.6"/><line x1="463.25" x2="490.50" y1="61.67" y2="61.67" stroke="#f3f3f3" stroke-width="0.6"/><line x1="463.25" x2="490.50" y1="34.49" y2="34.49" stroke="#f3f3f3" stroke-width="0.6"/><line x1="468.91" x2="468.91" y1="13.40" y2="163.30" stroke="#f3f3f3" stroke-width="0.6"/><line x1="477.76" x2="477.76" y1="13.40" y2="163.30" stroke="#f3f3f3" stroke-width="0.6"/><line x1="486.61" x2="486.61" y1="13.40" y2="163.30" stroke="#f3f3f3" stroke-width="0.6"/><line x1="463.25" x2="490.50" y1="156.80" y2="156.80" stroke="#ebebeb" stroke-width="0.9"/><line x1="463.25" x2="490.50" y1="129.62" y2="129.62" stroke="#ebebeb" stroke-width="0.9"/><line x1="463.25" x2="490.50" y1="102.44" y2="102.44" stroke="#ebebeb" stroke-width="0.9"/><line x1="463.25" x2="490.50" y1="75.26" y2="75.26" stroke="#ebebeb" stroke-width="0.9"/><line x1="463.25" x2="490.50" y1="48.08" y2="48.08" stroke="#ebebeb" stroke-width="0.9"/><line x1="463.25" x2="490.50" y1="20.90" y2="20.90" stroke="#ebebeb" stroke-width="0.9"/><line x1="464.49" x2="464.49" y1="13.40" y2="163.30" stroke="#ebebeb" stroke-width="0.9"/><line x1="473.34" x2="473.34" y1="13.40" y2="163.30" stroke="#ebebeb" stroke-width="0.9"/><line x1="482.18" x2="482.18" y1="13.40" y2="163.30" stroke="#ebebeb" stroke-width="0.9"/><polyline points="464.9,141.3 468.6,135.9 473.3,129.7 478.0,125.0 481.2,120.3 484.3,110.0" fill="none" stroke="#f08c98" stroke-width="0.8" stroke-linejoin="round"/><polyline points="464.9,144.4 468.6,142.2 471.8,139.1 474.9,135.9 478.0,130.6 481.2,127.5 484.3,118.1 488.1,105.6" fill="none" stroke="#575757" stroke-width="0.8" stroke-linejoin="round"/><rect x="463.25" y="13.40" width="27.25" height="149.90" fill="none" stroke="#6e6e6e" stroke-width="0.9"/><rect x="463.25" y="4.30" width="27.25" height="9.10" fill="#d9d9d9" stroke="#6e6e6e" stroke-width="0.9"/><text x="476.88" y="11.35" font-size="5.2" fill="#333" text-anchor="middle">X-4536</text><line x1="464.49" x2="464.49" y1="163.30" y2="164.80" stroke="#777" stroke-width="0.6"/><text x="464.49" y="171.40" font-size="5.1" fill="#555" text-anchor="middle">0</text><line x1="473.34" x2="473.34" y1="163.30" y2="164.80" stroke="#777" stroke-width="0.6"/><text x="473.34" y="171.40" font-size="5.1" fill="#555" text-anchor="middle">10</text><line x1="482.18" x2="482.18" y1="163.30" y2="164.80" stroke="#777" stroke-width="0.6"/><text x="482.18" y="171.40" font-size="5.1" fill="#555" text-anchor="middle">20</text><rect x="493.35" y="13.40" width="26.95" height="149.90" fill="#fff"/><line x1="493.35" x2="520.30" y1="143.21" y2="143.21" stroke="#f3f3f3" stroke-width="0.6"/><line x1="493.35" x2="520.30" y1="116.03" y2="116.03" stroke="#f3f3f3" stroke-width="0.6"/><line x1="493.35" x2="520.30" y1="88.85" y2="88.85" stroke="#f3f3f3" stroke-width="0.6"/><line x1="493.35" x2="520.30" y1="61.67" y2="61.67" stroke="#f3f3f3" stroke-width="0.6"/><line x1="493.35" x2="520.30" y1="34.49" y2="34.49" stroke="#f3f3f3" stroke-width="0.6"/><line x1="498.95" x2="498.95" y1="13.40" y2="163.30" stroke="#f3f3f3" stroke-width="0.6"/><line x1="507.70" x2="507.70" y1="13.40" y2="163.30" stroke="#f3f3f3" stroke-width="0.6"/><line x1="516.45" x2="516.45" y1="13.40" y2="163.30" stroke="#f3f3f3" stroke-width="0.6"/><line x1="493.35" x2="520.30" y1="156.80" y2="156.80" stroke="#ebebeb" stroke-width="0.9"/><line x1="493.35" x2="520.30" y1="129.62" y2="129.62" stroke="#ebebeb" stroke-width="0.9"/><line x1="493.35" x2="520.30" y1="102.44" y2="102.44" stroke="#ebebeb" stroke-width="0.9"/><line x1="493.35" x2="520.30" y1="75.26" y2="75.26" stroke="#ebebeb" stroke-width="0.9"/><line x1="493.35" x2="520.30" y1="48.08" y2="48.08" stroke="#ebebeb" stroke-width="0.9"/><line x1="493.35" x2="520.30" y1="20.90" y2="20.90" stroke="#ebebeb" stroke-width="0.9"/><line x1="494.58" x2="494.58" y1="13.40" y2="163.30" stroke="#ebebeb" stroke-width="0.9"/><line x1="503.32" x2="503.32" y1="13.40" y2="163.30" stroke="#ebebeb" stroke-width="0.9"/><line x1="512.07" x2="512.07" y1="13.40" y2="163.30" stroke="#ebebeb" stroke-width="0.9"/><polyline points="494.4,142.2 497.5,126.0 500.6,104.0 502.6,89.8 505.2,75.6 507.0,64.0" fill="none" stroke="#f08c98" stroke-width="0.8" stroke-linejoin="round"/><polyline points="494.4,142.8 497.5,127.3 500.6,106.6 502.6,93.7 505.2,82.1 507.0,74.4" fill="none" stroke="#575757" stroke-width="0.8" stroke-linejoin="round"/><rect x="493.35" y="13.40" width="26.95" height="149.90" fill="none" stroke="#6e6e6e" stroke-width="0.9"/><rect x="493.35" y="4.30" width="26.95" height="9.10" fill="#d9d9d9" stroke="#6e6e6e" stroke-width="0.9"/><text x="506.82" y="11.35" font-size="5.2" fill="#333" text-anchor="middle">X-4832</text><line x1="494.58" x2="494.58" y1="163.30" y2="164.80" stroke="#777" stroke-width="0.6"/><text x="494.58" y="171.40" font-size="5.1" fill="#555" text-anchor="middle">0</text><line x1="503.32" x2="503.32" y1="163.30" y2="164.80" stroke="#777" stroke-width="0.6"/><text x="503.32" y="171.40" font-size="5.1" fill="#555" text-anchor="middle">10</text><line x1="512.07" x2="512.07" y1="163.30" y2="164.80" stroke="#777" stroke-width="0.6"/><text x="512.07" y="171.40" font-size="5.1" fill="#555" text-anchor="middle">20</text><rect x="523.35" y="13.40" width="26.95" height="149.90" fill="#fff"/><line x1="523.35" x2="550.30" y1="143.21" y2="143.21" stroke="#f3f3f3" stroke-width="0.6"/><line x1="523.35" x2="550.30" y1="116.03" y2="116.03" stroke="#f3f3f3" stroke-width="0.6"/><line x1="523.35" x2="550.30" y1="88.85" y2="88.85" stroke="#f3f3f3" stroke-width="0.6"/><line x1="523.35" x2="550.30" y1="61.67" y2="61.67" stroke="#f3f3f3" stroke-width="0.6"/><line x1="523.35" x2="550.30" y1="34.49" y2="34.49" stroke="#f3f3f3" stroke-width="0.6"/><line x1="528.95" x2="528.95" y1="13.40" y2="163.30" stroke="#f3f3f3" stroke-width="0.6"/><line x1="537.70" x2="537.70" y1="13.40" y2="163.30" stroke="#f3f3f3" stroke-width="0.6"/><line x1="546.45" x2="546.45" y1="13.40" y2="163.30" stroke="#f3f3f3" stroke-width="0.6"/><line x1="523.35" x2="550.30" y1="156.80" y2="156.80" stroke="#ebebeb" stroke-width="0.9"/><line x1="523.35" x2="550.30" y1="129.62" y2="129.62" stroke="#ebebeb" stroke-width="0.9"/><line x1="523.35" x2="550.30" y1="102.44" y2="102.44" stroke="#ebebeb" stroke-width="0.9"/><line x1="523.35" x2="550.30" y1="75.26" y2="75.26" stroke="#ebebeb" stroke-width="0.9"/><line x1="523.35" x2="550.30" y1="48.08" y2="48.08" stroke="#ebebeb" stroke-width="0.9"/><line x1="523.35" x2="550.30" y1="20.90" y2="20.90" stroke="#ebebeb" stroke-width="0.9"/><line x1="524.58" x2="524.58" y1="13.40" y2="163.30" stroke="#ebebeb" stroke-width="0.9"/><line x1="533.33" x2="533.33" y1="13.40" y2="163.30" stroke="#ebebeb" stroke-width="0.9"/><line x1="542.07" x2="542.07" y1="13.40" y2="163.30" stroke="#ebebeb" stroke-width="0.9"/><polyline points="524.6,144.8 527.2,142.8 529.8,140.2 532.3,136.3 534.9,129.9 537.5,124.7 538.8,118.2 541.4,115.7 544.7,111.8" fill="none" stroke="#f08c98" stroke-width="0.8" stroke-linejoin="round"/><polyline points="524.6,144.1 527.2,129.9 530.3,112.3 532.9,117.0 535.4,110.5 537.5,105.3 540.1,104.0 542.7,98.4 545.3,93.2" fill="none" stroke="#575757" stroke-width="0.8" stroke-linejoin="round"/><rect x="523.35" y="13.40" width="26.95" height="149.90" fill="none" stroke="#6e6e6e" stroke-width="0.9"/><rect x="523.35" y="4.30" width="26.95" height="9.10" fill="#d9d9d9" stroke="#6e6e6e" stroke-width="0.9"/><text x="536.83" y="11.35" font-size="5.2" fill="#333" text-anchor="middle">X-4849</text><line x1="524.58" x2="524.58" y1="163.30" y2="164.80" stroke="#777" stroke-width="0.6"/><text x="524.58" y="171.40" font-size="5.1" fill="#555" text-anchor="middle">0</text><line x1="533.33" x2="533.33" y1="163.30" y2="164.80" stroke="#777" stroke-width="0.6"/><text x="533.33" y="171.40" font-size="5.1" fill="#555" text-anchor="middle">10</text><line x1="542.07" x2="542.07" y1="163.30" y2="164.80" stroke="#777" stroke-width="0.6"/><text x="542.07" y="171.40" font-size="5.1" fill="#555" text-anchor="middle">20</text><rect x="553.25" y="13.40" width="26.65" height="149.90" fill="#fff"/><line x1="553.25" x2="579.90" y1="143.21" y2="143.21" stroke="#f3f3f3" stroke-width="0.6"/><line x1="553.25" x2="579.90" y1="116.03" y2="116.03" stroke="#f3f3f3" stroke-width="0.6"/><line x1="553.25" x2="579.90" y1="88.85" y2="88.85" stroke="#f3f3f3" stroke-width="0.6"/><line x1="553.25" x2="579.90" y1="61.67" y2="61.67" stroke="#f3f3f3" stroke-width="0.6"/><line x1="553.25" x2="579.90" y1="34.49" y2="34.49" stroke="#f3f3f3" stroke-width="0.6"/><line x1="558.79" x2="558.79" y1="13.40" y2="163.30" stroke="#f3f3f3" stroke-width="0.6"/><line x1="567.44" x2="567.44" y1="13.40" y2="163.30" stroke="#f3f3f3" stroke-width="0.6"/><line x1="576.09" x2="576.09" y1="13.40" y2="163.30" stroke="#f3f3f3" stroke-width="0.6"/><line x1="553.25" x2="579.90" y1="156.80" y2="156.80" stroke="#ebebeb" stroke-width="0.9"/><line x1="553.25" x2="579.90" y1="129.62" y2="129.62" stroke="#ebebeb" stroke-width="0.9"/><line x1="553.25" x2="579.90" y1="102.44" y2="102.44" stroke="#ebebeb" stroke-width="0.9"/><line x1="553.25" x2="579.90" y1="75.26" y2="75.26" stroke="#ebebeb" stroke-width="0.9"/><line x1="553.25" x2="579.90" y1="48.08" y2="48.08" stroke="#ebebeb" stroke-width="0.9"/><line x1="553.25" x2="579.90" y1="20.90" y2="20.90" stroke="#ebebeb" stroke-width="0.9"/><line x1="554.46" x2="554.46" y1="13.40" y2="163.30" stroke="#ebebeb" stroke-width="0.9"/><line x1="563.11" x2="563.11" y1="13.40" y2="163.30" stroke="#ebebeb" stroke-width="0.9"/><line x1="571.77" x2="571.77" y1="13.40" y2="163.30" stroke="#ebebeb" stroke-width="0.9"/><polyline points="553.9,142.5 557.7,128.3 561.6,115.5 564.2,107.8 566.7,98.7 569.3,91.0 572.6,82.0" fill="none" stroke="#f08c98" stroke-width="0.8" stroke-linejoin="round"/><polyline points="553.9,143.8 557.7,129.6 561.6,116.8 564.2,109.0 567.5,106.5 569.3,97.5 572.6,82.8" fill="none" stroke="#575757" stroke-width="0.8" stroke-linejoin="round"/><rect x="553.25" y="13.40" width="26.65" height="149.90" fill="none" stroke="#6e6e6e" stroke-width="0.9"/><rect x="553.25" y="4.30" width="26.65" height="9.10" fill="#d9d9d9" stroke="#6e6e6e" stroke-width="0.9"/><text x="566.58" y="11.35" font-size="5.2" fill="#333" text-anchor="middle">X-5189</text><line x1="554.46" x2="554.46" y1="163.30" y2="164.80" stroke="#777" stroke-width="0.6"/><text x="554.46" y="171.40" font-size="5.1" fill="#555" text-anchor="middle">0</text><line x1="563.11" x2="563.11" y1="163.30" y2="164.80" stroke="#777" stroke-width="0.6"/><text x="563.11" y="171.40" font-size="5.1" fill="#555" text-anchor="middle">10</text><line x1="571.77" x2="571.77" y1="163.30" y2="164.80" stroke="#777" stroke-width="0.6"/><text x="571.77" y="171.40" font-size="5.1" fill="#555" text-anchor="middle">20</text><rect x="50.55" y="195.20" width="23.65" height="150.10" fill="#fff"/><line x1="50.55" x2="74.20" y1="324.80" y2="324.80" stroke="#f3f3f3" stroke-width="0.6"/><line x1="50.55" x2="74.20" y1="297.60" y2="297.60" stroke="#f3f3f3" stroke-width="0.6"/><line x1="50.55" x2="74.20" y1="270.40" y2="270.40" stroke="#f3f3f3" stroke-width="0.6"/><line x1="50.55" x2="74.20" y1="243.20" y2="243.20" stroke="#f3f3f3" stroke-width="0.6"/><line x1="50.55" x2="74.20" y1="216.00" y2="216.00" stroke="#f3f3f3" stroke-width="0.6"/><line x1="55.46" x2="55.46" y1="195.20" y2="345.30" stroke="#f3f3f3" stroke-width="0.6"/><line x1="63.14" x2="63.14" y1="195.20" y2="345.30" stroke="#f3f3f3" stroke-width="0.6"/><line x1="70.82" x2="70.82" y1="195.20" y2="345.30" stroke="#f3f3f3" stroke-width="0.6"/><line x1="50.55" x2="74.20" y1="338.40" y2="338.40" stroke="#ebebeb" stroke-width="0.9"/><line x1="50.55" x2="74.20" y1="311.20" y2="311.20" stroke="#ebebeb" stroke-width="0.9"/><line x1="50.55" x2="74.20" y1="284.00" y2="284.00" stroke="#ebebeb" stroke-width="0.9"/><line x1="50.55" x2="74.20" y1="256.80" y2="256.80" stroke="#ebebeb" stroke-width="0.9"/><line x1="50.55" x2="74.20" y1="229.60" y2="229.60" stroke="#ebebeb" stroke-width="0.9"/><line x1="50.55" x2="74.20" y1="202.40" y2="202.40" stroke="#ebebeb" stroke-width="0.9"/><line x1="51.62" x2="51.62" y1="195.20" y2="345.30" stroke="#ebebeb" stroke-width="0.9"/><line x1="59.30" x2="59.30" y1="195.20" y2="345.30" stroke="#ebebeb" stroke-width="0.9"/><line x1="66.98" x2="66.98" y1="195.20" y2="345.30" stroke="#ebebeb" stroke-width="0.9"/><polyline points="51.7,327.4 55.1,326.0 59.2,325.4 63.3,324.2 67.3,324.6 70.4,325.0 72.8,326.0" fill="none" stroke="#f08c98" stroke-width="0.8" stroke-linejoin="round"/><polyline points="51.7,324.0 54.1,320.9 57.2,318.9 59.8,316.4 62.3,307.7 64.7,302.6 67.3,293.4 69.4,290.4 71.4,287.9" fill="none" stroke="#575757" stroke-width="0.8" stroke-linejoin="round"/><rect x="50.55" y="195.20" width="23.65" height="150.10" fill="none" stroke="#6e6e6e" stroke-width="0.9"/><rect x="50.55" y="185.50" width="23.65" height="9.70" fill="#d9d9d9" stroke="#6e6e6e" stroke-width="0.9"/><text x="62.38" y="192.85" font-size="5.2" fill="#333" text-anchor="middle">X-2602</text><line x1="51.62" x2="51.62" y1="345.30" y2="346.80" stroke="#777" stroke-width="0.6"/><text x="51.62" y="352.70" font-size="5.1" fill="#555" text-anchor="middle">0</text><line x1="59.30" x2="59.30" y1="345.30" y2="346.80" stroke="#777" stroke-width="0.6"/><text x="59.30" y="352.70" font-size="5.1" fill="#555" text-anchor="middle">10</text><line x1="66.98" x2="66.98" y1="345.30" y2="346.80" stroke="#777" stroke-width="0.6"/><text x="66.98" y="352.70" font-size="5.1" fill="#555" text-anchor="middle">20</text><rect x="77.25" y="195.20" width="23.95" height="150.10" fill="#fff"/><line x1="77.25" x2="101.20" y1="324.80" y2="324.80" stroke="#f3f3f3" stroke-width="0.6"/><line x1="77.25" x2="101.20" y1="297.60" y2="297.60" stroke="#f3f3f3" stroke-width="0.6"/><line x1="77.25" x2="101.20" y1="270.40" y2="270.40" stroke="#f3f3f3" stroke-width="0.6"/><line x1="77.25" x2="101.20" y1="243.20" y2="243.20" stroke="#f3f3f3" stroke-width="0.6"/><line x1="77.25" x2="101.20" y1="216.00" y2="216.00" stroke="#f3f3f3" stroke-width="0.6"/><line x1="82.23" x2="82.23" y1="195.20" y2="345.30" stroke="#f3f3f3" stroke-width="0.6"/><line x1="90.00" x2="90.00" y1="195.20" y2="345.30" stroke="#f3f3f3" stroke-width="0.6"/><line x1="97.78" x2="97.78" y1="195.20" y2="345.30" stroke="#f3f3f3" stroke-width="0.6"/><line x1="77.25" x2="101.20" y1="338.40" y2="338.40" stroke="#ebebeb" stroke-width="0.9"/><line x1="77.25" x2="101.20" y1="311.20" y2="311.20" stroke="#ebebeb" stroke-width="0.9"/><line x1="77.25" x2="101.20" y1="284.00" y2="284.00" stroke="#ebebeb" stroke-width="0.9"/><line x1="77.25" x2="101.20" y1="256.80" y2="256.80" stroke="#ebebeb" stroke-width="0.9"/><line x1="77.25" x2="101.20" y1="229.60" y2="229.60" stroke="#ebebeb" stroke-width="0.9"/><line x1="77.25" x2="101.20" y1="202.40" y2="202.40" stroke="#ebebeb" stroke-width="0.9"/><line x1="78.34" x2="78.34" y1="195.20" y2="345.30" stroke="#ebebeb" stroke-width="0.9"/><line x1="86.11" x2="86.11" y1="195.20" y2="345.30" stroke="#ebebeb" stroke-width="0.9"/><line x1="93.89" x2="93.89" y1="195.20" y2="345.30" stroke="#ebebeb" stroke-width="0.9"/><polyline points="79.0,328.1 81.6,327.6 84.7,326.0 87.7,327.4 90.8,326.6 93.2,326.0 94.8,328.1 96.9,329.5 99.3,327.0" fill="none" stroke="#f08c98" stroke-width="0.8" stroke-linejoin="round"/><polyline points="79.0,327.0 81.6,324.6 84.3,320.9 86.7,317.9 89.3,315.8 91.8,307.7 94.5,295.5 96.9,294.0 97.9,294.0" fill="none" stroke="#575757" stroke-width="0.8" stroke-linejoin="round"/><rect x="77.25" y="195.20" width="23.95" height="150.10" fill="none" stroke="#6e6e6e" stroke-width="0.9"/><rect x="77.25" y="185.50" width="23.95" height="9.70" fill="#d9d9d9" stroke="#6e6e6e" stroke-width="0.9"/><text x="89.22" y="192.85" font-size="5.2" fill="#333" text-anchor="middle">X-2838</text><line x1="78.34" x2="78.34" y1="345.30" y2="346.80" stroke="#777" stroke-width="0.6"/><text x="78.34" y="352.70" font-size="5.1" fill="#555" text-anchor="middle">0</text><line x1="86.11" x2="86.11" y1="345.30" y2="346.80" stroke="#777" stroke-width="0.6"/><text x="86.11" y="352.70" font-size="5.1" fill="#555" text-anchor="middle">10</text><line x1="93.89" x2="93.89" y1="345.30" y2="346.80" stroke="#777" stroke-width="0.6"/><text x="93.89" y="352.70" font-size="5.1" fill="#555" text-anchor="middle">20</text><rect x="104.25" y="195.20" width="23.95" height="150.10" fill="#fff"/><line x1="104.25" x2="128.20" y1="324.80" y2="324.80" stroke="#f3f3f3" stroke-width="0.6"/><line x1="104.25" x2="128.20" y1="297.60" y2="297.60" stroke="#f3f3f3" stroke-width="0.6"/><line x1="104.25" x2="128.20" y1="270.40" y2="270.40" stroke="#f3f3f3" stroke-width="0.6"/><line x1="104.25" x2="128.20" y1="243.20" y2="243.20" stroke="#f3f3f3" stroke-width="0.6"/><line x1="104.25" x2="128.20" y1="216.00" y2="216.00" stroke="#f3f3f3" stroke-width="0.6"/><line x1="109.23" x2="109.23" y1="195.20" y2="345.30" stroke="#f3f3f3" stroke-width="0.6"/><line x1="117.00" x2="117.00" y1="195.20" y2="345.30" stroke="#f3f3f3" stroke-width="0.6"/><line x1="124.78" x2="124.78" y1="195.20" y2="345.30" stroke="#f3f3f3" stroke-width="0.6"/><line x1="104.25" x2="128.20" y1="338.40" y2="338.40" stroke="#ebebeb" stroke-width="0.9"/><line x1="104.25" x2="128.20" y1="311.20" y2="311.20" stroke="#ebebeb" stroke-width="0.9"/><line x1="104.25" x2="128.20" y1="284.00" y2="284.00" stroke="#ebebeb" stroke-width="0.9"/><line x1="104.25" x2="128.20" y1="256.80" y2="256.80" stroke="#ebebeb" stroke-width="0.9"/><line x1="104.25" x2="128.20" y1="229.60" y2="229.60" stroke="#ebebeb" stroke-width="0.9"/><line x1="104.25" x2="128.20" y1="202.40" y2="202.40" stroke="#ebebeb" stroke-width="0.9"/><line x1="105.34" x2="105.34" y1="195.20" y2="345.30" stroke="#ebebeb" stroke-width="0.9"/><line x1="113.11" x2="113.11" y1="195.20" y2="345.30" stroke="#ebebeb" stroke-width="0.9"/><line x1="120.89" x2="120.89" y1="195.20" y2="345.30" stroke="#ebebeb" stroke-width="0.9"/><polyline points="105.4,325.6 107.7,317.0 110.0,308.5 112.0,298.5 113.4,282.8 114.8,268.5 116.8,261.4 119.7,268.5 121.9,245.7" fill="none" stroke="#f08c98" stroke-width="0.8" stroke-linejoin="round"/><polyline points="105.4,322.7 106.3,308.5 107.1,294.2 107.7,274.2 108.8,258.0" fill="none" stroke="#575757" stroke-width="0.8" stroke-linejoin="round"/><rect x="104.25" y="195.20" width="23.95" height="150.10" fill="none" stroke="#6e6e6e" stroke-width="0.9"/><rect x="104.25" y="185.50" width="23.95" height="9.70" fill="#d9d9d9" stroke="#6e6e6e" stroke-width="0.9"/><text x="116.22" y="192.85" font-size="5.2" fill="#333" text-anchor="middle">X-2921</text><line x1="105.34" x2="105.34" y1="345.30" y2="346.80" stroke="#777" stroke-width="0.6"/><text x="105.34" y="352.70" font-size="5.1" fill="#555" text-anchor="middle">0</text><line x1="113.11" x2="113.11" y1="345.30" y2="346.80" stroke="#777" stroke-width="0.6"/><text x="113.11" y="352.70" font-size="5.1" fill="#555" text-anchor="middle">10</text><line x1="120.89" x2="120.89" y1="345.30" y2="346.80" stroke="#777" stroke-width="0.6"/><text x="120.89" y="352.70" font-size="5.1" fill="#555" text-anchor="middle">20</text><rect x="131.45" y="195.20" width="23.95" height="150.10" fill="#fff"/><line x1="131.45" x2="155.40" y1="324.80" y2="324.80" stroke="#f3f3f3" stroke-width="0.6"/><line x1="131.45" x2="155.40" y1="297.60" y2="297.60" stroke="#f3f3f3" stroke-width="0.6"/><line x1="131.45" x2="155.40" y1="270.40" y2="270.40" stroke="#f3f3f3" stroke-width="0.6"/><line x1="131.45" x2="155.40" y1="243.20" y2="243.20" stroke="#f3f3f3" stroke-width="0.6"/><line x1="131.45" x2="155.40" y1="216.00" y2="216.00" stroke="#f3f3f3" stroke-width="0.6"/><line x1="136.43" x2="136.43" y1="195.20" y2="345.30" stroke="#f3f3f3" stroke-width="0.6"/><line x1="144.20" x2="144.20" y1="195.20" y2="345.30" stroke="#f3f3f3" stroke-width="0.6"/><line x1="151.98" x2="151.98" y1="195.20" y2="345.30" stroke="#f3f3f3" stroke-width="0.6"/><line x1="131.45" x2="155.40" y1="338.40" y2="338.40" stroke="#ebebeb" stroke-width="0.9"/><line x1="131.45" x2="155.40" y1="311.20" y2="311.20" stroke="#ebebeb" stroke-width="0.9"/><line x1="131.45" x2="155.40" y1="284.00" y2="284.00" stroke="#ebebeb" stroke-width="0.9"/><line x1="131.45" x2="155.40" y1="256.80" y2="256.80" stroke="#ebebeb" stroke-width="0.9"/><line x1="131.45" x2="155.40" y1="229.60" y2="229.60" stroke="#ebebeb" stroke-width="0.9"/><line x1="131.45" x2="155.40" y1="202.40" y2="202.40" stroke="#ebebeb" stroke-width="0.9"/><line x1="132.54" x2="132.54" y1="195.20" y2="345.30" stroke="#ebebeb" stroke-width="0.9"/><line x1="140.31" x2="140.31" y1="195.20" y2="345.30" stroke="#ebebeb" stroke-width="0.9"/><line x1="148.09" x2="148.09" y1="195.20" y2="345.30" stroke="#ebebeb" stroke-width="0.9"/><polyline points="132.3,326.3 134.1,328.1 136.3,330.0 138.4,329.1 140.2,328.4 142.4,329.6 144.5,331.2 146.9,332.0 149.4,332.4 151.8,332.4" fill="none" stroke="#f08c98" stroke-width="0.8" stroke-linejoin="round"/><polyline points="132.3,326.9 134.1,327.5 136.3,328.4 138.4,326.6 140.2,325.4 142.7,324.4 145.1,324.2 147.5,323.8 149.7,323.0 151.4,320.5 153.6,320.2" fill="none" stroke="#575757" stroke-width="0.8" stroke-linejoin="round"/><rect x="131.45" y="195.20" width="23.95" height="150.10" fill="none" stroke="#6e6e6e" stroke-width="0.9"/><rect x="131.45" y="185.50" width="23.95" height="9.70" fill="#d9d9d9" stroke="#6e6e6e" stroke-width="0.9"/><text x="143.43" y="192.85" font-size="5.2" fill="#333" text-anchor="middle">X-3211</text><line x1="132.54" x2="132.54" y1="345.30" y2="346.80" stroke="#777" stroke-width="0.6"/><text x="132.54" y="352.70" font-size="5.1" fill="#555" text-anchor="middle">0</text><line x1="140.31" x2="140.31" y1="345.30" y2="346.80" stroke="#777" stroke-width="0.6"/><text x="140.31" y="352.70" font-size="5.1" fill="#555" text-anchor="middle">10</text><line x1="148.09" x2="148.09" y1="345.30" y2="346.80" stroke="#777" stroke-width="0.6"/><text x="148.09" y="352.70" font-size="5.1" fill="#555" text-anchor="middle">20</text><rect x="158.25" y="195.20" width="23.65" height="150.10" fill="#fff"/><line x1="158.25" x2="181.90" y1="324.80" y2="324.80" stroke="#f3f3f3" stroke-width="0.6"/><line x1="158.25" x2="181.90" y1="297.60" y2="297.60" stroke="#f3f3f3" stroke-width="0.6"/><line x1="158.25" x2="181.90" y1="270.40" y2="270.40" stroke="#f3f3f3" stroke-width="0.6"/><line x1="158.25" x2="181.90" y1="243.20" y2="243.20" stroke="#f3f3f3" stroke-width="0.6"/><line x1="158.25" x2="181.90" y1="216.00" y2="216.00" stroke="#f3f3f3" stroke-width="0.6"/><line x1="163.16" x2="163.16" y1="195.20" y2="345.30" stroke="#f3f3f3" stroke-width="0.6"/><line x1="170.84" x2="170.84" y1="195.20" y2="345.30" stroke="#f3f3f3" stroke-width="0.6"/><line x1="178.52" x2="178.52" y1="195.20" y2="345.30" stroke="#f3f3f3" stroke-width="0.6"/><line x1="158.25" x2="181.90" y1="338.40" y2="338.40" stroke="#ebebeb" stroke-width="0.9"/><line x1="158.25" x2="181.90" y1="311.20" y2="311.20" stroke="#ebebeb" stroke-width="0.9"/><line x1="158.25" x2="181.90" y1="284.00" y2="284.00" stroke="#ebebeb" stroke-width="0.9"/><line x1="158.25" x2="181.90" y1="256.80" y2="256.80" stroke="#ebebeb" stroke-width="0.9"/><line x1="158.25" x2="181.90" y1="229.60" y2="229.60" stroke="#ebebeb" stroke-width="0.9"/><line x1="158.25" x2="181.90" y1="202.40" y2="202.40" stroke="#ebebeb" stroke-width="0.9"/><line x1="159.32" x2="159.32" y1="195.20" y2="345.30" stroke="#ebebeb" stroke-width="0.9"/><line x1="167.00" x2="167.00" y1="195.20" y2="345.30" stroke="#ebebeb" stroke-width="0.9"/><line x1="174.68" x2="174.68" y1="195.20" y2="345.30" stroke="#ebebeb" stroke-width="0.9"/><polyline points="159.4,327.6 163.1,326.2 166.0,322.7 168.8,319.3 171.7,316.5 175.4,314.2" fill="none" stroke="#f08c98" stroke-width="0.8" stroke-linejoin="round"/><polyline points="159.4,327.0 162.3,325.6 165.1,319.9 168.0,315.6 170.8,307.0 173.7,291.4 175.9,275.7 178.2,260.0" fill="none" stroke="#575757" stroke-width="0.8" stroke-linejoin="round"/><rect x="158.25" y="195.20" width="23.65" height="150.10" fill="none" stroke="#6e6e6e" stroke-width="0.9"/><rect x="158.25" y="185.50" width="23.65" height="9.70" fill="#d9d9d9" stroke="#6e6e6e" stroke-width="0.9"/><text x="170.07" y="192.85" font-size="5.2" fill="#333" text-anchor="middle">X-3503</text><line x1="159.32" x2="159.32" y1="345.30" y2="346.80" stroke="#777" stroke-width="0.6"/><text x="159.32" y="352.70" font-size="5.1" fill="#555" text-anchor="middle">0</text><line x1="167.00" x2="167.00" y1="345.30" y2="346.80" stroke="#777" stroke-width="0.6"/><text x="167.00" y="352.70" font-size="5.1" fill="#555" text-anchor="middle">10</text><line x1="174.68" x2="174.68" y1="345.30" y2="346.80" stroke="#777" stroke-width="0.6"/><text x="174.68" y="352.70" font-size="5.1" fill="#555" text-anchor="middle">20</text><rect x="185.05" y="195.20" width="23.85" height="150.10" fill="#fff"/><line x1="185.05" x2="208.90" y1="324.80" y2="324.80" stroke="#f3f3f3" stroke-width="0.6"/><line x1="185.05" x2="208.90" y1="297.60" y2="297.60" stroke="#f3f3f3" stroke-width="0.6"/><line x1="185.05" x2="208.90" y1="270.40" y2="270.40" stroke="#f3f3f3" stroke-width="0.6"/><line x1="185.05" x2="208.90" y1="243.20" y2="243.20" stroke="#f3f3f3" stroke-width="0.6"/><line x1="185.05" x2="208.90" y1="216.00" y2="216.00" stroke="#f3f3f3" stroke-width="0.6"/><line x1="190.01" x2="190.01" y1="195.20" y2="345.30" stroke="#f3f3f3" stroke-width="0.6"/><line x1="197.75" x2="197.75" y1="195.20" y2="345.30" stroke="#f3f3f3" stroke-width="0.6"/><line x1="205.49" x2="205.49" y1="195.20" y2="345.30" stroke="#f3f3f3" stroke-width="0.6"/><line x1="185.05" x2="208.90" y1="338.40" y2="338.40" stroke="#ebebeb" stroke-width="0.9"/><line x1="185.05" x2="208.90" y1="311.20" y2="311.20" stroke="#ebebeb" stroke-width="0.9"/><line x1="185.05" x2="208.90" y1="284.00" y2="284.00" stroke="#ebebeb" stroke-width="0.9"/><line x1="185.05" x2="208.90" y1="256.80" y2="256.80" stroke="#ebebeb" stroke-width="0.9"/><line x1="185.05" x2="208.90" y1="229.60" y2="229.60" stroke="#ebebeb" stroke-width="0.9"/><line x1="185.05" x2="208.90" y1="202.40" y2="202.40" stroke="#ebebeb" stroke-width="0.9"/><line x1="186.13" x2="186.13" y1="195.20" y2="345.30" stroke="#ebebeb" stroke-width="0.9"/><line x1="193.88" x2="193.88" y1="195.20" y2="345.30" stroke="#ebebeb" stroke-width="0.9"/><line x1="201.62" x2="201.62" y1="195.20" y2="345.30" stroke="#ebebeb" stroke-width="0.9"/><polyline points="186.0,325.6 189.6,322.7 192.5,318.5 195.3,314.7 198.2,304.2 200.2,297.1 202.5,291.4" fill="none" stroke="#f08c98" stroke-width="0.8" stroke-linejoin="round"/><polyline points="186.0,325.0 188.0,308.5 189.6,291.4 191.6,271.4 193.6,255.7" fill="none" stroke="#575757" stroke-width="0.8" stroke-linejoin="round"/><rect x="185.05" y="195.20" width="23.85" height="150.10" fill="none" stroke="#6e6e6e" stroke-width="0.9"/><rect x="185.05" y="185.50" width="23.85" height="9.70" fill="#d9d9d9" stroke="#6e6e6e" stroke-width="0.9"/><text x="196.98" y="192.85" font-size="5.2" fill="#333" text-anchor="middle">X-3576</text><line x1="186.13" x2="186.13" y1="345.30" y2="346.80" stroke="#777" stroke-width="0.6"/><text x="186.13" y="352.70" font-size="5.1" fill="#555" text-anchor="middle">0</text><line x1="193.88" x2="193.88" y1="345.30" y2="346.80" stroke="#777" stroke-width="0.6"/><text x="193.88" y="352.70" font-size="5.1" fill="#555" text-anchor="middle">10</text><line x1="201.62" x2="201.62" y1="345.30" y2="346.80" stroke="#777" stroke-width="0.6"/><text x="201.62" y="352.70" font-size="5.1" fill="#555" text-anchor="middle">20</text><rect x="212.35" y="195.20" width="23.55" height="150.10" fill="#fff"/><line x1="212.35" x2="235.90" y1="324.80" y2="324.80" stroke="#f3f3f3" stroke-width="0.6"/><line x1="212.35" x2="235.90" y1="297.60" y2="297.60" stroke="#f3f3f3" stroke-width="0.6"/><line x1="212.35" x2="235.90" y1="270.40" y2="270.40" stroke="#f3f3f3" stroke-width="0.6"/><line x1="212.35" x2="235.90" y1="243.20" y2="243.20" stroke="#f3f3f3" stroke-width="0.6"/><line x1="212.35" x2="235.90" y1="216.00" y2="216.00" stroke="#f3f3f3" stroke-width="0.6"/><line x1="217.24" x2="217.24" y1="195.20" y2="345.30" stroke="#f3f3f3" stroke-width="0.6"/><line x1="224.89" x2="224.89" y1="195.20" y2="345.30" stroke="#f3f3f3" stroke-width="0.6"/><line x1="232.54" x2="232.54" y1="195.20" y2="345.30" stroke="#f3f3f3" stroke-width="0.6"/><line x1="212.35" x2="235.90" y1="338.40" y2="338.40" stroke="#ebebeb" stroke-width="0.9"/><line x1="212.35" x2="235.90" y1="311.20" y2="311.20" stroke="#ebebeb" stroke-width="0.9"/><line x1="212.35" x2="235.90" y1="284.00" y2="284.00" stroke="#ebebeb" stroke-width="0.9"/><line x1="212.35" x2="235.90" y1="256.80" y2="256.80" stroke="#ebebeb" stroke-width="0.9"/><line x1="212.35" x2="235.90" y1="229.60" y2="229.60" stroke="#ebebeb" stroke-width="0.9"/><line x1="212.35" x2="235.90" y1="202.40" y2="202.40" stroke="#ebebeb" stroke-width="0.9"/><line x1="213.42" x2="213.42" y1="195.20" y2="345.30" stroke="#ebebeb" stroke-width="0.9"/><line x1="221.07" x2="221.07" y1="195.20" y2="345.30" stroke="#ebebeb" stroke-width="0.9"/><line x1="228.71" x2="228.71" y1="195.20" y2="345.30" stroke="#ebebeb" stroke-width="0.9"/><polyline points="213.5,327.0 216.5,323.5 219.7,322.8 223.4,324.2 226.6,322.8 230.8,320.5" fill="none" stroke="#f08c98" stroke-width="0.8" stroke-linejoin="round"/><polyline points="213.5,327.5 216.5,321.9 219.2,313.6 222.7,301.6 226.2,287.7 229.6,273.4" fill="none" stroke="#575757" stroke-width="0.8" stroke-linejoin="round"/><rect x="212.35" y="195.20" width="23.55" height="150.10" fill="none" stroke="#6e6e6e" stroke-width="0.9"/><rect x="212.35" y="185.50" width="23.55" height="9.70" fill="#d9d9d9" stroke="#6e6e6e" stroke-width="0.9"/><text x="224.12" y="192.85" font-size="5.2" fill="#333" text-anchor="middle">X-3880</text><line x1="213.42" x2="213.42" y1="345.30" y2="346.80" stroke="#777" stroke-width="0.6"/><text x="213.42" y="352.70" font-size="5.1" fill="#555" text-anchor="middle">0</text><line x1="221.07" x2="221.07" y1="345.30" y2="346.80" stroke="#777" stroke-width="0.6"/><text x="221.07" y="352.70" font-size="5.1" fill="#555" text-anchor="middle">10</text><line x1="228.71" x2="228.71" y1="345.30" y2="346.80" stroke="#777" stroke-width="0.6"/><text x="228.71" y="352.70" font-size="5.1" fill="#555" text-anchor="middle">20</text><rect x="239.35" y="195.20" width="23.45" height="150.10" fill="#fff"/><line x1="239.35" x2="262.80" y1="324.80" y2="324.80" stroke="#f3f3f3" stroke-width="0.6"/><line x1="239.35" x2="262.80" y1="297.60" y2="297.60" stroke="#f3f3f3" stroke-width="0.6"/><line x1="239.35" x2="262.80" y1="270.40" y2="270.40" stroke="#f3f3f3" stroke-width="0.6"/><line x1="239.35" x2="262.80" y1="243.20" y2="243.20" stroke="#f3f3f3" stroke-width="0.6"/><line x1="239.35" x2="262.80" y1="216.00" y2="216.00" stroke="#f3f3f3" stroke-width="0.6"/><line x1="244.22" x2="244.22" y1="195.20" y2="345.30" stroke="#f3f3f3" stroke-width="0.6"/><line x1="251.84" x2="251.84" y1="195.20" y2="345.30" stroke="#f3f3f3" stroke-width="0.6"/><line x1="259.45" x2="259.45" y1="195.20" y2="345.30" stroke="#f3f3f3" stroke-width="0.6"/><line x1="239.35" x2="262.80" y1="338.40" y2="338.40" stroke="#ebebeb" stroke-width="0.9"/><line x1="239.35" x2="262.80" y1="311.20" y2="311.20" stroke="#ebebeb" stroke-width="0.9"/><line x1="239.35" x2="262.80" y1="284.00" y2="284.00" stroke="#ebebeb" stroke-width="0.9"/><line x1="239.35" x2="262.80" y1="256.80" y2="256.80" stroke="#ebebeb" stroke-width="0.9"/><line x1="239.35" x2="262.80" y1="229.60" y2="229.60" stroke="#ebebeb" stroke-width="0.9"/><line x1="239.35" x2="262.80" y1="202.40" y2="202.40" stroke="#ebebeb" stroke-width="0.9"/><line x1="240.42" x2="240.42" y1="195.20" y2="345.30" stroke="#ebebeb" stroke-width="0.9"/><line x1="248.03" x2="248.03" y1="195.20" y2="345.30" stroke="#ebebeb" stroke-width="0.9"/><line x1="255.64" x2="255.64" y1="195.20" y2="345.30" stroke="#ebebeb" stroke-width="0.9"/><polyline points="240.0,328.1 242.8,327.5 245.8,324.7 248.1,315.4 250.4,307.4 252.8,302.7 255.1,302.0 257.4,299.3" fill="none" stroke="#f08c98" stroke-width="0.8" stroke-linejoin="round"/><polyline points="240.0,324.7 242.8,316.6 245.8,307.4 248.1,299.3 250.7,295.5 251.9,284.3 253.3,265.8 255.0,245.0 256.8,227.7" fill="none" stroke="#575757" stroke-width="0.8" stroke-linejoin="round"/><rect x="239.35" y="195.20" width="23.45" height="150.10" fill="none" stroke="#6e6e6e" stroke-width="0.9"/><rect x="239.35" y="185.50" width="23.45" height="9.70" fill="#d9d9d9" stroke="#6e6e6e" stroke-width="0.9"/><text x="251.07" y="192.85" font-size="5.2" fill="#333" text-anchor="middle">X-4455</text><line x1="240.42" x2="240.42" y1="345.30" y2="346.80" stroke="#777" stroke-width="0.6"/><text x="240.42" y="352.70" font-size="5.1" fill="#555" text-anchor="middle">0</text><line x1="248.03" x2="248.03" y1="345.30" y2="346.80" stroke="#777" stroke-width="0.6"/><text x="248.03" y="352.70" font-size="5.1" fill="#555" text-anchor="middle">10</text><line x1="255.64" x2="255.64" y1="345.30" y2="346.80" stroke="#777" stroke-width="0.6"/><text x="255.64" y="352.70" font-size="5.1" fill="#555" text-anchor="middle">20</text><rect x="266.35" y="195.20" width="23.25" height="150.10" fill="#fff"/><line x1="266.35" x2="289.60" y1="324.80" y2="324.80" stroke="#f3f3f3" stroke-width="0.6"/><line x1="266.35" x2="289.60" y1="297.60" y2="297.60" stroke="#f3f3f3" stroke-width="0.6"/><line x1="266.35" x2="289.60" y1="270.40" y2="270.40" stroke="#f3f3f3" stroke-width="0.6"/><line x1="266.35" x2="289.60" y1="243.20" y2="243.20" stroke="#f3f3f3" stroke-width="0.6"/><line x1="266.35" x2="289.60" y1="216.00" y2="216.00" stroke="#f3f3f3" stroke-width="0.6"/><line x1="271.18" x2="271.18" y1="195.20" y2="345.30" stroke="#f3f3f3" stroke-width="0.6"/><line x1="278.73" x2="278.73" y1="195.20" y2="345.30" stroke="#f3f3f3" stroke-width="0.6"/><line x1="286.28" x2="286.28" y1="195.20" y2="345.30" stroke="#f3f3f3" stroke-width="0.6"/><line x1="266.35" x2="289.60" y1="338.40" y2="338.40" stroke="#ebebeb" stroke-width="0.9"/><line x1="266.35" x2="289.60" y1="311.20" y2="311.20" stroke="#ebebeb" stroke-width="0.9"/><line x1="266.35" x2="289.60" y1="284.00" y2="284.00" stroke="#ebebeb" stroke-width="0.9"/><line x1="266.35" x2="289.60" y1="256.80" y2="256.80" stroke="#ebebeb" stroke-width="0.9"/><line x1="266.35" x2="289.60" y1="229.60" y2="229.60" stroke="#ebebeb" stroke-width="0.9"/><line x1="266.35" x2="289.60" y1="202.40" y2="202.40" stroke="#ebebeb" stroke-width="0.9"/><line x1="267.41" x2="267.41" y1="195.20" y2="345.30" stroke="#ebebeb" stroke-width="0.9"/><line x1="274.96" x2="274.96" y1="195.20" y2="345.30" stroke="#ebebeb" stroke-width="0.9"/><line x1="282.50" x2="282.50" y1="195.20" y2="345.30" stroke="#ebebeb" stroke-width="0.9"/><polyline points="267.5,327.5 270.9,328.9 274.4,328.2 277.9,328.9 280.6,325.9 284.3,326.6 287.1,325.9 289.0,324.2" fill="none" stroke="#f08c98" stroke-width="0.8" stroke-linejoin="round"/><polyline points="267.5,327.5 270.5,321.2 273.2,315.5 275.6,308.5 277.6,297.0 279.8,281.0 282.5,262.0 286.4,240.4" fill="none" stroke="#575757" stroke-width="0.8" stroke-linejoin="round"/><rect x="266.35" y="195.20" width="23.25" height="150.10" fill="none" stroke="#6e6e6e" stroke-width="0.9"/><rect x="266.35" y="185.50" width="23.25" height="9.70" fill="#d9d9d9" stroke="#6e6e6e" stroke-width="0.9"/><text x="277.98" y="192.85" font-size="5.2" fill="#333" text-anchor="middle">X-4538</text><line x1="267.41" x2="267.41" y1="345.30" y2="346.80" stroke="#777" stroke-width="0.6"/><text x="267.41" y="352.70" font-size="5.1" fill="#555" text-anchor="middle">0</text><line x1="274.96" x2="274.96" y1="345.30" y2="346.80" stroke="#777" stroke-width="0.6"/><text x="274.96" y="352.70" font-size="5.1" fill="#555" text-anchor="middle">10</text><line x1="282.50" x2="282.50" y1="345.30" y2="346.80" stroke="#777" stroke-width="0.6"/><text x="282.50" y="352.70" font-size="5.1" fill="#555" text-anchor="middle">20</text><rect x="293.25" y="195.20" width="23.35" height="150.10" fill="#fff"/><line x1="293.25" x2="316.60" y1="324.80" y2="324.80" stroke="#f3f3f3" stroke-width="0.6"/><line x1="293.25" x2="316.60" y1="297.60" y2="297.60" stroke="#f3f3f3" stroke-width="0.6"/><line x1="293.25" x2="316.60" y1="270.40" y2="270.40" stroke="#f3f3f3" stroke-width="0.6"/><line x1="293.25" x2="316.60" y1="243.20" y2="243.20" stroke="#f3f3f3" stroke-width="0.6"/><line x1="293.25" x2="316.60" y1="216.00" y2="216.00" stroke="#f3f3f3" stroke-width="0.6"/><line x1="298.10" x2="298.10" y1="195.20" y2="345.30" stroke="#f3f3f3" stroke-width="0.6"/><line x1="305.68" x2="305.68" y1="195.20" y2="345.30" stroke="#f3f3f3" stroke-width="0.6"/><line x1="313.26" x2="313.26" y1="195.20" y2="345.30" stroke="#f3f3f3" stroke-width="0.6"/><line x1="293.25" x2="316.60" y1="338.40" y2="338.40" stroke="#ebebeb" stroke-width="0.9"/><line x1="293.25" x2="316.60" y1="311.20" y2="311.20" stroke="#ebebeb" stroke-width="0.9"/><line x1="293.25" x2="316.60" y1="284.00" y2="284.00" stroke="#ebebeb" stroke-width="0.9"/><line x1="293.25" x2="316.60" y1="256.80" y2="256.80" stroke="#ebebeb" stroke-width="0.9"/><line x1="293.25" x2="316.60" y1="229.60" y2="229.60" stroke="#ebebeb" stroke-width="0.9"/><line x1="293.25" x2="316.60" y1="202.40" y2="202.40" stroke="#ebebeb" stroke-width="0.9"/><line x1="294.31" x2="294.31" y1="195.20" y2="345.30" stroke="#ebebeb" stroke-width="0.9"/><line x1="301.89" x2="301.89" y1="195.20" y2="345.30" stroke="#ebebeb" stroke-width="0.9"/><line x1="309.47" x2="309.47" y1="195.20" y2="345.30" stroke="#ebebeb" stroke-width="0.9"/><polyline points="294.0,327.5 297.5,328.9 301.0,329.8 304.4,328.9 306.8,325.9 309.8,321.9 312.5,316.6" fill="none" stroke="#f08c98" stroke-width="0.8" stroke-linejoin="round"/><polyline points="294.0,327.0 296.8,324.7 299.8,317.8 302.1,306.2 303.7,292.4 305.6,283.1 307.9,275.0 309.8,269.2" fill="none" stroke="#575757" stroke-width="0.8" stroke-linejoin="round"/><rect x="293.25" y="195.20" width="23.35" height="150.10" fill="none" stroke="#6e6e6e" stroke-width="0.9"/><rect x="293.25" y="185.50" width="23.35" height="9.70" fill="#d9d9d9" stroke="#6e6e6e" stroke-width="0.9"/><text x="304.93" y="192.85" font-size="5.2" fill="#333" text-anchor="middle">X-4658</text><line x1="294.31" x2="294.31" y1="345.30" y2="346.80" stroke="#777" stroke-width="0.6"/><text x="294.31" y="352.70" font-size="5.1" fill="#555" text-anchor="middle">0</text><line x1="301.89" x2="301.89" y1="345.30" y2="346.80" stroke="#777" stroke-width="0.6"/><text x="301.89" y="352.70" font-size="5.1" fill="#555" text-anchor="middle">10</text><line x1="309.47" x2="309.47" y1="345.30" y2="346.80" stroke="#777" stroke-width="0.6"/><text x="309.47" y="352.70" font-size="5.1" fill="#555" text-anchor="middle">20</text><line x1="49.05" x2="50.55" y1="338.40" y2="338.40" stroke="#777" stroke-width="0.6"/><text x="47.70" y="340.55" font-size="5.35" fill="#555" text-anchor="end">0</text><line x1="49.05" x2="50.55" y1="311.20" y2="311.20" stroke="#777" stroke-width="0.6"/><text x="47.70" y="313.35" font-size="5.35" fill="#555" text-anchor="end">500</text><line x1="49.05" x2="50.55" y1="284.00" y2="284.00" stroke="#777" stroke-width="0.6"/><text x="47.70" y="286.15" font-size="5.35" fill="#555" text-anchor="end">1000</text><line x1="49.05" x2="50.55" y1="256.80" y2="256.80" stroke="#777" stroke-width="0.6"/><text x="47.70" y="258.95" font-size="5.35" fill="#555" text-anchor="end">1500</text><line x1="49.05" x2="50.55" y1="229.60" y2="229.60" stroke="#777" stroke-width="0.6"/><text x="47.70" y="231.75" font-size="5.35" fill="#555" text-anchor="end">2000</text><line x1="49.05" x2="50.55" y1="202.40" y2="202.40" stroke="#777" stroke-width="0.6"/><text x="47.70" y="204.55" font-size="5.35" fill="#555" text-anchor="end">2500</text><rect x="414.30" y="198.20" width="42.00" height="150.20" fill="#fff"/><line x1="414.30" x2="456.30" y1="327.81" y2="327.81" stroke="#f3f3f3" stroke-width="0.6"/><line x1="414.30" x2="456.30" y1="300.63" y2="300.63" stroke="#f3f3f3" stroke-width="0.6"/><line x1="414.30" x2="456.30" y1="273.45" y2="273.45" stroke="#f3f3f3" stroke-width="0.6"/><line x1="414.30" x2="456.30" y1="246.27" y2="246.27" stroke="#f3f3f3" stroke-width="0.6"/><line x1="414.30" x2="456.30" y1="219.09" y2="219.09" stroke="#f3f3f3" stroke-width="0.6"/><line x1="423.03" x2="423.03" y1="198.20" y2="348.40" stroke="#f3f3f3" stroke-width="0.6"/><line x1="436.66" x2="436.66" y1="198.20" y2="348.40" stroke="#f3f3f3" stroke-width="0.6"/><line x1="450.30" x2="450.30" y1="198.20" y2="348.40" stroke="#f3f3f3" stroke-width="0.6"/><line x1="414.30" x2="456.30" y1="341.40" y2="341.40" stroke="#ebebeb" stroke-width="0.9"/><line x1="414.30" x2="456.30" y1="314.22" y2="314.22" stroke="#ebebeb" stroke-width="0.9"/><line x1="414.30" x2="456.30" y1="287.04" y2="287.04" stroke="#ebebeb" stroke-width="0.9"/><line x1="414.30" x2="456.30" y1="259.86" y2="259.86" stroke="#ebebeb" stroke-width="0.9"/><line x1="414.30" x2="456.30" y1="232.68" y2="232.68" stroke="#ebebeb" stroke-width="0.9"/><line x1="414.30" x2="456.30" y1="205.50" y2="205.50" stroke="#ebebeb" stroke-width="0.9"/><line x1="416.21" x2="416.21" y1="198.20" y2="348.40" stroke="#ebebeb" stroke-width="0.9"/><line x1="429.85" x2="429.85" y1="198.20" y2="348.40" stroke="#ebebeb" stroke-width="0.9"/><line x1="443.48" x2="443.48" y1="198.20" y2="348.40" stroke="#ebebeb" stroke-width="0.9"/><polyline points="416.8,330.4 419.6,330.4 422.5,333.2 426.3,336.7 431.0,338.9 434.8,339.9 438.6,340.5 442.4,339.3 445.3,339.9 448.1,340.5 451.0,339.9 454.2,339.3" fill="none" stroke="#f08c98" stroke-width="0.8" stroke-linejoin="round"/><polyline points="416.8,330.4 419.6,326.6 423.4,322.8 430.1,318.0 433.9,311.4 437.7,305.7 441.5,300.0 443.4,297.1 444.7,296.2" fill="none" stroke="#575757" stroke-width="0.8" stroke-linejoin="round"/><rect x="414.30" y="198.20" width="42.00" height="150.20" fill="none" stroke="#6e6e6e" stroke-width="0.9"/><rect x="414.30" y="188.50" width="42.00" height="9.70" fill="#d9d9d9" stroke="#6e6e6e" stroke-width="0.9"/><text x="435.30" y="195.85" font-size="5.2" fill="#333" text-anchor="middle">X-1906</text><line x1="416.21" x2="416.21" y1="348.40" y2="349.90" stroke="#777" stroke-width="0.6"/><text x="416.21" y="356.20" font-size="5.1" fill="#555" text-anchor="middle">0</text><line x1="429.85" x2="429.85" y1="348.40" y2="349.90" stroke="#777" stroke-width="0.6"/><text x="429.85" y="356.20" font-size="5.1" fill="#555" text-anchor="middle">10</text><line x1="443.48" x2="443.48" y1="348.40" y2="349.90" stroke="#777" stroke-width="0.6"/><text x="443.48" y="356.20" font-size="5.1" fill="#555" text-anchor="middle">20</text><rect x="459.30" y="198.20" width="42.10" height="150.20" fill="#fff"/><line x1="459.30" x2="501.40" y1="327.81" y2="327.81" stroke="#f3f3f3" stroke-width="0.6"/><line x1="459.30" x2="501.40" y1="300.63" y2="300.63" stroke="#f3f3f3" stroke-width="0.6"/><line x1="459.30" x2="501.40" y1="273.45" y2="273.45" stroke="#f3f3f3" stroke-width="0.6"/><line x1="459.30" x2="501.40" y1="246.27" y2="246.27" stroke="#f3f3f3" stroke-width="0.6"/><line x1="459.30" x2="501.40" y1="219.09" y2="219.09" stroke="#f3f3f3" stroke-width="0.6"/><line x1="468.05" x2="468.05" y1="198.20" y2="348.40" stroke="#f3f3f3" stroke-width="0.6"/><line x1="481.72" x2="481.72" y1="198.20" y2="348.40" stroke="#f3f3f3" stroke-width="0.6"/><line x1="495.39" x2="495.39" y1="198.20" y2="348.40" stroke="#f3f3f3" stroke-width="0.6"/><line x1="459.30" x2="501.40" y1="341.40" y2="341.40" stroke="#ebebeb" stroke-width="0.9"/><line x1="459.30" x2="501.40" y1="314.22" y2="314.22" stroke="#ebebeb" stroke-width="0.9"/><line x1="459.30" x2="501.40" y1="287.04" y2="287.04" stroke="#ebebeb" stroke-width="0.9"/><line x1="459.30" x2="501.40" y1="259.86" y2="259.86" stroke="#ebebeb" stroke-width="0.9"/><line x1="459.30" x2="501.40" y1="232.68" y2="232.68" stroke="#ebebeb" stroke-width="0.9"/><line x1="459.30" x2="501.40" y1="205.50" y2="205.50" stroke="#ebebeb" stroke-width="0.9"/><line x1="461.21" x2="461.21" y1="198.20" y2="348.40" stroke="#ebebeb" stroke-width="0.9"/><line x1="474.88" x2="474.88" y1="198.20" y2="348.40" stroke="#ebebeb" stroke-width="0.9"/><line x1="488.55" x2="488.55" y1="198.20" y2="348.40" stroke="#ebebeb" stroke-width="0.9"/><polyline points="461.0,329.8 463.3,333.6 467.1,337.1 471.3,338.0 474.7,336.1 478.5,333.3 482.3,332.3 485.2,331.7 488.4,331.0 490.9,331.7 493.4,333.3" fill="none" stroke="#f08c98" stroke-width="0.8" stroke-linejoin="round"/><polyline points="461.0,328.5 464.3,319.9 468.4,310.0 472.2,301.8 476.0,286.6 479.8,272.3 483.6,258.1" fill="none" stroke="#575757" stroke-width="0.8" stroke-linejoin="round"/><rect x="459.30" y="198.20" width="42.10" height="150.20" fill="none" stroke="#6e6e6e" stroke-width="0.9"/><rect x="459.30" y="188.50" width="42.10" height="9.70" fill="#d9d9d9" stroke="#6e6e6e" stroke-width="0.9"/><text x="480.35" y="195.85" font-size="5.2" fill="#333" text-anchor="middle">X-2613</text><line x1="461.21" x2="461.21" y1="348.40" y2="349.90" stroke="#777" stroke-width="0.6"/><text x="461.21" y="356.20" font-size="5.1" fill="#555" text-anchor="middle">0</text><line x1="474.88" x2="474.88" y1="348.40" y2="349.90" stroke="#777" stroke-width="0.6"/><text x="474.88" y="356.20" font-size="5.1" fill="#555" text-anchor="middle">10</text><line x1="488.55" x2="488.55" y1="348.40" y2="349.90" stroke="#777" stroke-width="0.6"/><text x="488.55" y="356.20" font-size="5.1" fill="#555" text-anchor="middle">20</text><rect x="504.00" y="198.20" width="42.30" height="150.20" fill="#fff"/><line x1="504.00" x2="546.30" y1="327.81" y2="327.81" stroke="#f3f3f3" stroke-width="0.6"/><line x1="504.00" x2="546.30" y1="300.63" y2="300.63" stroke="#f3f3f3" stroke-width="0.6"/><line x1="504.00" x2="546.30" y1="273.45" y2="273.45" stroke="#f3f3f3" stroke-width="0.6"/><line x1="504.00" x2="546.30" y1="246.27" y2="246.27" stroke="#f3f3f3" stroke-width="0.6"/><line x1="504.00" x2="546.30" y1="219.09" y2="219.09" stroke="#f3f3f3" stroke-width="0.6"/><line x1="512.79" x2="512.79" y1="198.20" y2="348.40" stroke="#f3f3f3" stroke-width="0.6"/><line x1="526.52" x2="526.52" y1="198.20" y2="348.40" stroke="#f3f3f3" stroke-width="0.6"/><line x1="540.26" x2="540.26" y1="198.20" y2="348.40" stroke="#f3f3f3" stroke-width="0.6"/><line x1="504.00" x2="546.30" y1="341.40" y2="341.40" stroke="#ebebeb" stroke-width="0.9"/><line x1="504.00" x2="546.30" y1="314.22" y2="314.22" stroke="#ebebeb" stroke-width="0.9"/><line x1="504.00" x2="546.30" y1="287.04" y2="287.04" stroke="#ebebeb" stroke-width="0.9"/><line x1="504.00" x2="546.30" y1="259.86" y2="259.86" stroke="#ebebeb" stroke-width="0.9"/><line x1="504.00" x2="546.30" y1="232.68" y2="232.68" stroke="#ebebeb" stroke-width="0.9"/><line x1="504.00" x2="546.30" y1="205.50" y2="205.50" stroke="#ebebeb" stroke-width="0.9"/><line x1="505.92" x2="505.92" y1="198.20" y2="348.40" stroke="#ebebeb" stroke-width="0.9"/><line x1="519.66" x2="519.66" y1="198.20" y2="348.40" stroke="#ebebeb" stroke-width="0.9"/><line x1="533.39" x2="533.39" y1="198.20" y2="348.40" stroke="#ebebeb" stroke-width="0.9"/><polyline points="506.8,330.4 508.7,331.3 511.5,330.4 513.4,329.8 517.2,335.1 520.1,333.2 523.9,329.0 527.7,322.2 530.5,320.3 534.3,319.0" fill="none" stroke="#f08c98" stroke-width="0.8" stroke-linejoin="round"/><polyline points="506.8,328.5 508.7,317.1 510.6,307.6 513.4,303.8 516.1,300.5 517.8,285.6 519.4,268.5 521.6,260.9 525.4,247.6" fill="none" stroke="#575757" stroke-width="0.8" stroke-linejoin="round"/><rect x="504.00" y="198.20" width="42.30" height="150.20" fill="none" stroke="#6e6e6e" stroke-width="0.9"/><rect x="504.00" y="188.50" width="42.30" height="9.70" fill="#d9d9d9" stroke="#6e6e6e" stroke-width="0.9"/><text x="525.15" y="195.85" font-size="5.2" fill="#333" text-anchor="middle">X-2992</text><line x1="505.92" x2="505.92" y1="348.40" y2="349.90" stroke="#777" stroke-width="0.6"/><text x="505.92" y="356.20" font-size="5.1" fill="#555" text-anchor="middle">0</text><line x1="519.66" x2="519.66" y1="348.40" y2="349.90" stroke="#777" stroke-width="0.6"/><text x="519.66" y="356.20" font-size="5.1" fill="#555" text-anchor="middle">10</text><line x1="533.39" x2="533.39" y1="348.40" y2="349.90" stroke="#777" stroke-width="0.6"/><text x="533.39" y="356.20" font-size="5.1" fill="#555" text-anchor="middle">20</text><rect x="549.20" y="198.20" width="42.30" height="150.20" fill="#fff"/><line x1="549.20" x2="591.50" y1="327.81" y2="327.81" stroke="#f3f3f3" stroke-width="0.6"/><line x1="549.20" x2="591.50" y1="300.63" y2="300.63" stroke="#f3f3f3" stroke-width="0.6"/><line x1="549.20" x2="591.50" y1="273.45" y2="273.45" stroke="#f3f3f3" stroke-width="0.6"/><line x1="549.20" x2="591.50" y1="246.27" y2="246.27" stroke="#f3f3f3" stroke-width="0.6"/><line x1="549.20" x2="591.50" y1="219.09" y2="219.09" stroke="#f3f3f3" stroke-width="0.6"/><line x1="557.99" x2="557.99" y1="198.20" y2="348.40" stroke="#f3f3f3" stroke-width="0.6"/><line x1="571.72" x2="571.72" y1="198.20" y2="348.40" stroke="#f3f3f3" stroke-width="0.6"/><line x1="585.46" x2="585.46" y1="198.20" y2="348.40" stroke="#f3f3f3" stroke-width="0.6"/><line x1="549.20" x2="591.50" y1="341.40" y2="341.40" stroke="#ebebeb" stroke-width="0.9"/><line x1="549.20" x2="591.50" y1="314.22" y2="314.22" stroke="#ebebeb" stroke-width="0.9"/><line x1="549.20" x2="591.50" y1="287.04" y2="287.04" stroke="#ebebeb" stroke-width="0.9"/><line x1="549.20" x2="591.50" y1="259.86" y2="259.86" stroke="#ebebeb" stroke-width="0.9"/><line x1="549.20" x2="591.50" y1="232.68" y2="232.68" stroke="#ebebeb" stroke-width="0.9"/><line x1="549.20" x2="591.50" y1="205.50" y2="205.50" stroke="#ebebeb" stroke-width="0.9"/><line x1="551.12" x2="551.12" y1="198.20" y2="348.40" stroke="#ebebeb" stroke-width="0.9"/><line x1="564.86" x2="564.86" y1="198.20" y2="348.40" stroke="#ebebeb" stroke-width="0.9"/><line x1="578.59" x2="578.59" y1="198.20" y2="348.40" stroke="#ebebeb" stroke-width="0.9"/><polyline points="551.4,327.9 554.3,331.3 557.1,335.1 560.9,338.0 564.7,338.9 569.5,339.3 573.3,340.5 578.0,340.5 582.8,340.5 587.6,341.2" fill="none" stroke="#f08c98" stroke-width="0.8" stroke-linejoin="round"/><polyline points="551.4,328.5 555.2,322.8 560.0,316.1 563.8,308.5 566.4,300.9 569.2,290.0 570.8,275.2 572.1,262.8 573.6,252.9" fill="none" stroke="#575757" stroke-width="0.8" stroke-linejoin="round"/><rect x="549.20" y="198.20" width="42.30" height="150.20" fill="none" stroke="#6e6e6e" stroke-width="0.9"/><rect x="549.20" y="188.50" width="42.30" height="9.70" fill="#d9d9d9" stroke="#6e6e6e" stroke-width="0.9"/><text x="570.35" y="195.85" font-size="5.2" fill="#333" text-anchor="middle">X-3483</text><line x1="551.12" x2="551.12" y1="348.40" y2="349.90" stroke="#777" stroke-width="0.6"/><text x="551.12" y="356.20" font-size="5.1" fill="#555" text-anchor="middle">0</text><line x1="564.86" x2="564.86" y1="348.40" y2="349.90" stroke="#777" stroke-width="0.6"/><text x="564.86" y="356.20" font-size="5.1" fill="#555" text-anchor="middle">10</text><line x1="578.59" x2="578.59" y1="348.40" y2="349.90" stroke="#777" stroke-width="0.6"/><text x="578.59" y="356.20" font-size="5.1" fill="#555" text-anchor="middle">20</text><rect x="594.30" y="198.20" width="42.10" height="150.20" fill="#fff"/><line x1="594.30" x2="636.40" y1="327.81" y2="327.81" stroke="#f3f3f3" stroke-width="0.6"/><line x1="594.30" x2="636.40" y1="300.63" y2="300.63" stroke="#f3f3f3" stroke-width="0.6"/><line x1="594.30" x2="636.40" y1="273.45" y2="273.45" stroke="#f3f3f3" stroke-width="0.6"/><line x1="594.30" x2="636.40" y1="246.27" y2="246.27" stroke="#f3f3f3" stroke-width="0.6"/><line x1="594.30" x2="636.40" y1="219.09" y2="219.09" stroke="#f3f3f3" stroke-width="0.6"/><line x1="603.05" x2="603.05" y1="198.20" y2="348.40" stroke="#f3f3f3" stroke-width="0.6"/><line x1="616.72" x2="616.72" y1="198.20" y2="348.40" stroke="#f3f3f3" stroke-width="0.6"/><line x1="630.39" x2="630.39" y1="198.20" y2="348.40" stroke="#f3f3f3" stroke-width="0.6"/><line x1="594.30" x2="636.40" y1="341.40" y2="341.40" stroke="#ebebeb" stroke-width="0.9"/><line x1="594.30" x2="636.40" y1="314.22" y2="314.22" stroke="#ebebeb" stroke-width="0.9"/><line x1="594.30" x2="636.40" y1="287.04" y2="287.04" stroke="#ebebeb" stroke-width="0.9"/><line x1="594.30" x2="636.40" y1="259.86" y2="259.86" stroke="#ebebeb" stroke-width="0.9"/><line x1="594.30" x2="636.40" y1="232.68" y2="232.68" stroke="#ebebeb" stroke-width="0.9"/><line x1="594.30" x2="636.40" y1="205.50" y2="205.50" stroke="#ebebeb" stroke-width="0.9"/><line x1="596.21" x2="596.21" y1="198.20" y2="348.40" stroke="#ebebeb" stroke-width="0.9"/><line x1="609.88" x2="609.88" y1="198.20" y2="348.40" stroke="#ebebeb" stroke-width="0.9"/><line x1="623.55" x2="623.55" y1="198.20" y2="348.40" stroke="#ebebeb" stroke-width="0.9"/><polyline points="596.8,331.0 600.6,330.2 604.4,330.4 608.2,331.7 611.0,332.3 613.9,331.0 618.6,330.4 620.1,331.0 623.4,335.1 627.2,337.4 630.0,339.3 632.9,338.0" fill="none" stroke="#f08c98" stroke-width="0.8" stroke-linejoin="round"/><polyline points="596.8,329.8 600.6,324.7 605.3,317.1 608.2,309.5 611.0,300.0 613.9,290.5 615.2,284.0 618.3,270.0 621.5,253.5 623.2,251.2 625.5,250.0" fill="none" stroke="#575757" stroke-width="0.8" stroke-linejoin="round"/><rect x="594.30" y="198.20" width="42.10" height="150.20" fill="none" stroke="#6e6e6e" stroke-width="0.9"/><rect x="594.30" y="188.50" width="42.10" height="9.70" fill="#d9d9d9" stroke="#6e6e6e" stroke-width="0.9"/><text x="615.35" y="195.85" font-size="5.2" fill="#333" text-anchor="middle">X-3746</text><line x1="596.21" x2="596.21" y1="348.40" y2="349.90" stroke="#777" stroke-width="0.6"/><text x="596.21" y="356.20" font-size="5.1" fill="#555" text-anchor="middle">0</text><line x1="609.88" x2="609.88" y1="348.40" y2="349.90" stroke="#777" stroke-width="0.6"/><text x="609.88" y="356.20" font-size="5.1" fill="#555" text-anchor="middle">10</text><line x1="623.55" x2="623.55" y1="348.40" y2="349.90" stroke="#777" stroke-width="0.6"/><text x="623.55" y="356.20" font-size="5.1" fill="#555" text-anchor="middle">20</text><rect x="639.40" y="198.20" width="41.90" height="150.20" fill="#fff"/><line x1="639.40" x2="681.30" y1="327.81" y2="327.81" stroke="#f3f3f3" stroke-width="0.6"/><line x1="639.40" x2="681.30" y1="300.63" y2="300.63" stroke="#f3f3f3" stroke-width="0.6"/><line x1="639.40" x2="681.30" y1="273.45" y2="273.45" stroke="#f3f3f3" stroke-width="0.6"/><line x1="639.40" x2="681.30" y1="246.27" y2="246.27" stroke="#f3f3f3" stroke-width="0.6"/><line x1="639.40" x2="681.30" y1="219.09" y2="219.09" stroke="#f3f3f3" stroke-width="0.6"/><line x1="648.11" x2="648.11" y1="198.20" y2="348.40" stroke="#f3f3f3" stroke-width="0.6"/><line x1="661.71" x2="661.71" y1="198.20" y2="348.40" stroke="#f3f3f3" stroke-width="0.6"/><line x1="675.31" x2="675.31" y1="198.20" y2="348.40" stroke="#f3f3f3" stroke-width="0.6"/><line x1="639.40" x2="681.30" y1="341.40" y2="341.40" stroke="#ebebeb" stroke-width="0.9"/><line x1="639.40" x2="681.30" y1="314.22" y2="314.22" stroke="#ebebeb" stroke-width="0.9"/><line x1="639.40" x2="681.30" y1="287.04" y2="287.04" stroke="#ebebeb" stroke-width="0.9"/><line x1="639.40" x2="681.30" y1="259.86" y2="259.86" stroke="#ebebeb" stroke-width="0.9"/><line x1="639.40" x2="681.30" y1="232.68" y2="232.68" stroke="#ebebeb" stroke-width="0.9"/><line x1="639.40" x2="681.30" y1="205.50" y2="205.50" stroke="#ebebeb" stroke-width="0.9"/><line x1="641.30" x2="641.30" y1="198.20" y2="348.40" stroke="#ebebeb" stroke-width="0.9"/><line x1="654.91" x2="654.91" y1="198.20" y2="348.40" stroke="#ebebeb" stroke-width="0.9"/><line x1="668.51" x2="668.51" y1="198.20" y2="348.40" stroke="#ebebeb" stroke-width="0.9"/><polyline points="641.0,329.8 644.3,331.3 649.0,334.2 653.2,337.1 658.5,337.1 664.2,337.1 669.9,337.4 677.2,337.1" fill="none" stroke="#f08c98" stroke-width="0.8" stroke-linejoin="round"/><polyline points="641.0,329.8 644.3,325.6 648.1,319.9 651.9,310.4 655.7,301.9 659.2,293.3 661.0,284.9 662.6,276.7 665.6,270.2 668.5,264.5" fill="none" stroke="#575757" stroke-width="0.8" stroke-linejoin="round"/><rect x="639.40" y="198.20" width="41.90" height="150.20" fill="none" stroke="#6e6e6e" stroke-width="0.9"/><rect x="639.40" y="188.50" width="41.90" height="9.70" fill="#d9d9d9" stroke="#6e6e6e" stroke-width="0.9"/><text x="660.35" y="195.85" font-size="5.2" fill="#333" text-anchor="middle">X-4544</text><line x1="641.30" x2="641.30" y1="348.40" y2="349.90" stroke="#777" stroke-width="0.6"/><text x="641.30" y="356.20" font-size="5.1" fill="#555" text-anchor="middle">0</text><line x1="654.91" x2="654.91" y1="348.40" y2="349.90" stroke="#777" stroke-width="0.6"/><text x="654.91" y="356.20" font-size="5.1" fill="#555" text-anchor="middle">10</text><line x1="668.51" x2="668.51" y1="348.40" y2="349.90" stroke="#777" stroke-width="0.6"/><text x="668.51" y="356.20" font-size="5.1" fill="#555" text-anchor="middle">20</text><line x1="412.80" x2="414.30" y1="341.40" y2="341.40" stroke="#777" stroke-width="0.6"/><text x="411.45" y="343.55" font-size="5.35" fill="#555" text-anchor="end">0</text><line x1="412.80" x2="414.30" y1="314.22" y2="314.22" stroke="#777" stroke-width="0.6"/><text x="411.45" y="316.37" font-size="5.35" fill="#555" text-anchor="end">500</text><line x1="412.80" x2="414.30" y1="287.04" y2="287.04" stroke="#777" stroke-width="0.6"/><text x="411.45" y="289.19" font-size="5.35" fill="#555" text-anchor="end">1000</text><line x1="412.80" x2="414.30" y1="259.86" y2="259.86" stroke="#777" stroke-width="0.6"/><text x="411.45" y="262.01" font-size="5.35" fill="#555" text-anchor="end">1500</text><line x1="412.80" x2="414.30" y1="232.68" y2="232.68" stroke="#777" stroke-width="0.6"/><text x="411.45" y="234.83" font-size="5.35" fill="#555" text-anchor="end">2000</text><line x1="412.80" x2="414.30" y1="205.50" y2="205.50" stroke="#777" stroke-width="0.6"/><text x="411.45" y="207.65" font-size="5.35" fill="#555" text-anchor="end">2500</text><text x="26.30" y="88.50" transform="rotate(-90 26.30 88.50)" font-size="6.45" fill="#1a1a1a" text-anchor="middle">Tumor Volume (mm3)</text><text x="33.30" y="270.00" transform="rotate(-90 33.30 270.00)" font-size="6.45" fill="#1a1a1a" text-anchor="middle">Tumor Volume (mm3)</text><text x="397.70" y="272.50" transform="rotate(-90 397.70 272.50)" font-size="6.45" fill="#1a1a1a" text-anchor="middle">Tumor Volume (mm3)</text><text x="176.95" y="178.30" font-size="6.3" fill="#1a1a1a" text-anchor="middle">Days</text><text x="446.85" y="178.30" font-size="6.3" fill="#1a1a1a" text-anchor="middle">Days</text><text x="183.10" y="359.70" font-size="6.3" fill="#1a1a1a" text-anchor="middle">Days</text><text x="547.90" y="362.70" font-size="6.3" fill="#1a1a1a" text-anchor="middle">Days</text><text x="12.30" y="90.00" transform="rotate(-90 12.30 90.00)" font-size="14.2" fill="#245470" text-anchor="middle">Class 1</text><text x="12.40" y="273.60" transform="rotate(-90 12.40 273.60)" font-size="14.2" fill="#245470" text-anchor="middle">Class 2</text><text x="382.80" y="276.60" transform="rotate(-90 382.80 276.60)" font-size="14.2" fill="#245470" text-anchor="middle">Class 3</text><line x1="588" x2="609" y1="137.9" y2="137.9" stroke="#3a3a3a" stroke-width="1.8"/><line x1="588" x2="608.6" y1="156.8" y2="156.8" stroke="#ea2228" stroke-width="1.9"/><text x="614.00" y="141.20" font-size="10.7" fill="#2b5a72">Vehicle</text><text x="611.80" y="160.20" font-size="10.7" fill="#2b5a72">Encorafenib</text></g></svg>
</body></html>
